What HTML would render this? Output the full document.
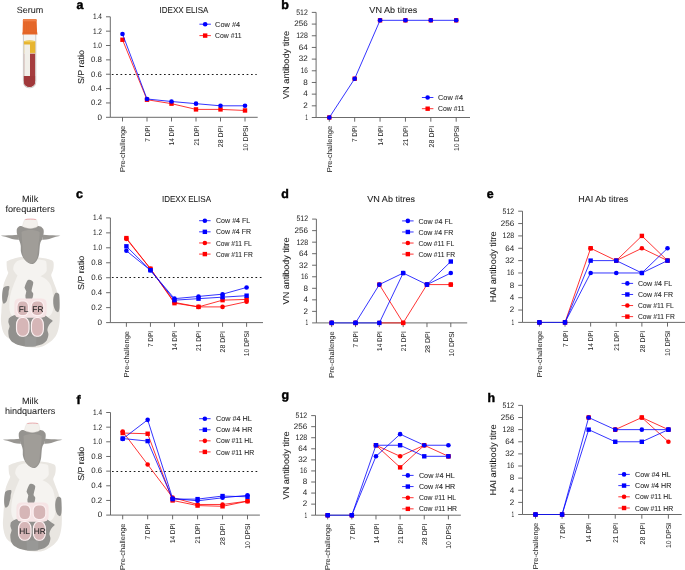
<!DOCTYPE html>
<html><head><meta charset="utf-8"><style>
html,body{margin:0;padding:0;background:#fff;}
svg{display:block;font-family:"Liberation Sans", sans-serif;text-rendering:geometricPrecision;will-change:transform;}
</style></head><body>
<svg width="685" height="570" viewBox="0 0 685 570">
<path d="M110.30 16.80 V117.30 H257.70" fill="none" stroke="#5a5a5a" stroke-width="0.9"/>
<path d="M106.00 117.30 H110.30" stroke="#5a5a5a" stroke-width="0.9"/>
<text x="102.00" y="119.65" font-size="7.9" text-anchor="end" font-weight="normal" fill="#1e1e1e" stroke="#1e1e1e" stroke-width="0.02" textLength="4.49" lengthAdjust="spacingAndGlyphs">0</text>
<path d="M106.00 102.94 H110.30" stroke="#5a5a5a" stroke-width="0.9"/>
<text x="102.00" y="105.29" font-size="7.9" text-anchor="end" font-weight="normal" fill="#1e1e1e" stroke="#1e1e1e" stroke-width="0.02" textLength="10.92" lengthAdjust="spacingAndGlyphs">0.2</text>
<path d="M106.00 88.59 H110.30" stroke="#5a5a5a" stroke-width="0.9"/>
<text x="102.00" y="90.94" font-size="7.9" text-anchor="end" font-weight="normal" fill="#1e1e1e" stroke="#1e1e1e" stroke-width="0.02" textLength="10.92" lengthAdjust="spacingAndGlyphs">0.4</text>
<path d="M106.00 74.23 H110.30" stroke="#5a5a5a" stroke-width="0.9"/>
<text x="102.00" y="76.58" font-size="7.9" text-anchor="end" font-weight="normal" fill="#1e1e1e" stroke="#1e1e1e" stroke-width="0.02" textLength="10.92" lengthAdjust="spacingAndGlyphs">0.6</text>
<path d="M106.00 59.87 H110.30" stroke="#5a5a5a" stroke-width="0.9"/>
<text x="102.00" y="62.22" font-size="7.9" text-anchor="end" font-weight="normal" fill="#1e1e1e" stroke="#1e1e1e" stroke-width="0.02" textLength="10.92" lengthAdjust="spacingAndGlyphs">0.8</text>
<path d="M106.00 45.51 H110.30" stroke="#5a5a5a" stroke-width="0.9"/>
<text x="102.00" y="47.86" font-size="7.9" text-anchor="end" font-weight="normal" fill="#1e1e1e" stroke="#1e1e1e" stroke-width="0.02" textLength="9.08" lengthAdjust="spacingAndGlyphs">1.0</text>
<path d="M106.00 31.16 H110.30" stroke="#5a5a5a" stroke-width="0.9"/>
<text x="102.00" y="33.51" font-size="7.9" text-anchor="end" font-weight="normal" fill="#1e1e1e" stroke="#1e1e1e" stroke-width="0.02" textLength="9.08" lengthAdjust="spacingAndGlyphs">1.2</text>
<path d="M106.00 16.80 H110.30" stroke="#5a5a5a" stroke-width="0.9"/>
<text x="102.00" y="19.15" font-size="7.9" text-anchor="end" font-weight="normal" fill="#1e1e1e" stroke="#1e1e1e" stroke-width="0.02" textLength="9.08" lengthAdjust="spacingAndGlyphs">1.4</text>
<path d="M122.50 117.30 V121.50" stroke="#5a5a5a" stroke-width="0.9"/>
<text transform="translate(125.20,125.70) rotate(-90)" font-size="7.1" text-anchor="end" font-weight="normal" fill="#1e1e1e" stroke="#1e1e1e" stroke-width="0.03" textLength="46.4" lengthAdjust="spacingAndGlyphs">Pre-challenge</text>
<path d="M147.00 117.30 V121.50" stroke="#5a5a5a" stroke-width="0.9"/>
<text transform="translate(149.70,125.70) rotate(-90)" font-size="7.1" text-anchor="end" font-weight="normal" fill="#1e1e1e" stroke="#1e1e1e" stroke-width="0.03" textLength="16.1" lengthAdjust="spacingAndGlyphs">7 DPI</text>
<path d="M171.50 117.30 V121.50" stroke="#5a5a5a" stroke-width="0.9"/>
<text transform="translate(174.20,125.70) rotate(-90)" font-size="7.1" text-anchor="end" font-weight="normal" fill="#1e1e1e" stroke="#1e1e1e" stroke-width="0.03" textLength="19.6" lengthAdjust="spacingAndGlyphs">14 DPI</text>
<path d="M196.00 117.30 V121.50" stroke="#5a5a5a" stroke-width="0.9"/>
<text transform="translate(198.70,125.70) rotate(-90)" font-size="7.1" text-anchor="end" font-weight="normal" fill="#1e1e1e" stroke="#1e1e1e" stroke-width="0.03" textLength="19.9" lengthAdjust="spacingAndGlyphs">21 DPI</text>
<path d="M220.50 117.30 V121.50" stroke="#5a5a5a" stroke-width="0.9"/>
<text transform="translate(223.20,125.70) rotate(-90)" font-size="7.1" text-anchor="end" font-weight="normal" fill="#1e1e1e" stroke="#1e1e1e" stroke-width="0.03" textLength="21.5" lengthAdjust="spacingAndGlyphs">28 DPI</text>
<path d="M245.00 117.30 V121.50" stroke="#5a5a5a" stroke-width="0.9"/>
<text transform="translate(247.70,125.70) rotate(-90)" font-size="7.1" text-anchor="end" font-weight="normal" fill="#1e1e1e" stroke="#1e1e1e" stroke-width="0.03" textLength="25.2" lengthAdjust="spacingAndGlyphs">10 DPSI</text>
<text transform="translate(84.20,67.05) rotate(-90)" font-size="8.6" text-anchor="middle" font-weight="normal" fill="#1e1e1e" stroke="#1e1e1e" stroke-width="0.08" textLength="34.1" lengthAdjust="spacingAndGlyphs">S/P ratio</text>
<path d="M111.80 74.50 H256.70" stroke="#1a1a1a" stroke-width="1" stroke-dasharray="1.7 2.65"/>
<text x="184.00" y="12.70" font-size="8.6" text-anchor="middle" font-weight="normal" fill="#1e1e1e" stroke="#1e1e1e" stroke-width="0.08" textLength="48.9" lengthAdjust="spacingAndGlyphs">IDEXX ELISA</text>
<text x="76.40" y="9.10" font-size="12.4" text-anchor="start" font-weight="bold" fill="#000" stroke="#000" stroke-width="0.45">a</text>
<path d="M122.50 39.77 L147.00 99.71 M147.00 99.71 L171.50 103.66 M171.50 103.66 L196.00 109.40 M196.00 109.40 L220.50 109.40 M220.50 109.40 L245.00 110.48 " fill="none" stroke="#ff0000" stroke-width="0.8" stroke-linejoin="round"/>
<rect x="120.30" y="37.57" width="4.4" height="4.4" fill="#ff0000"/>
<rect x="144.80" y="97.51" width="4.4" height="4.4" fill="#ff0000"/>
<rect x="169.30" y="101.46" width="4.4" height="4.4" fill="#ff0000"/>
<rect x="193.80" y="107.20" width="4.4" height="4.4" fill="#ff0000"/>
<rect x="218.30" y="107.20" width="4.4" height="4.4" fill="#ff0000"/>
<rect x="242.80" y="108.28" width="4.4" height="4.4" fill="#ff0000"/>
<path d="M122.50 34.03 L147.00 98.99 M147.00 98.99 L171.50 101.51 M171.50 101.51 L196.00 103.66 M196.00 103.66 L220.50 105.81 M220.50 105.81 L245.00 105.81 " fill="none" stroke="#0000ff" stroke-width="0.8" stroke-linejoin="round"/>
<circle cx="122.50" cy="34.03" r="2.3" fill="#0000ff"/>
<circle cx="147.00" cy="98.99" r="2.3" fill="#0000ff"/>
<circle cx="171.50" cy="101.51" r="2.3" fill="#0000ff"/>
<circle cx="196.00" cy="103.66" r="2.3" fill="#0000ff"/>
<circle cx="220.50" cy="105.81" r="2.3" fill="#0000ff"/>
<circle cx="245.00" cy="105.81" r="2.3" fill="#0000ff"/>
<path d="M199.40 24.20 H210.90" stroke="#0000ff" stroke-width="0.8"/>
<circle cx="205.15" cy="24.20" r="2.3" fill="#0000ff"/>
<text x="215.10" y="26.80" font-size="7.3" text-anchor="start" font-weight="normal" fill="#1e1e1e" stroke="#1e1e1e" stroke-width="0.06" textLength="25.0" lengthAdjust="spacingAndGlyphs">Cow #4</text>
<path d="M199.40 35.60 H210.90" stroke="#ff0000" stroke-width="0.8"/>
<rect x="202.95" y="33.40" width="4.4" height="4.4" fill="#ff0000"/>
<text x="215.10" y="38.20" font-size="7.3" text-anchor="start" font-weight="normal" fill="#1e1e1e" stroke="#1e1e1e" stroke-width="0.06" textLength="26.6" lengthAdjust="spacingAndGlyphs">Cow #11</text>
<path d="M316.10 12.40 V117.50 H470.00" fill="none" stroke="#5a5a5a" stroke-width="0.9"/>
<path d="M311.80 117.50 H316.10" stroke="#5a5a5a" stroke-width="0.9"/>
<text x="307.80" y="119.85" font-size="7.9" text-anchor="end" font-weight="normal" fill="#1e1e1e" stroke="#1e1e1e" stroke-width="0.02" textLength="2.65" lengthAdjust="spacingAndGlyphs">1</text>
<path d="M311.80 105.82 H316.10" stroke="#5a5a5a" stroke-width="0.9"/>
<text x="307.80" y="108.17" font-size="7.9" text-anchor="end" font-weight="normal" fill="#1e1e1e" stroke="#1e1e1e" stroke-width="0.02" textLength="4.49" lengthAdjust="spacingAndGlyphs">2</text>
<path d="M311.80 94.14 H316.10" stroke="#5a5a5a" stroke-width="0.9"/>
<text x="307.80" y="96.49" font-size="7.9" text-anchor="end" font-weight="normal" fill="#1e1e1e" stroke="#1e1e1e" stroke-width="0.02" textLength="4.49" lengthAdjust="spacingAndGlyphs">4</text>
<path d="M311.80 82.47 H316.10" stroke="#5a5a5a" stroke-width="0.9"/>
<text x="307.80" y="84.82" font-size="7.9" text-anchor="end" font-weight="normal" fill="#1e1e1e" stroke="#1e1e1e" stroke-width="0.02" textLength="4.49" lengthAdjust="spacingAndGlyphs">8</text>
<path d="M311.80 70.79 H316.10" stroke="#5a5a5a" stroke-width="0.9"/>
<text x="307.80" y="73.14" font-size="7.9" text-anchor="end" font-weight="normal" fill="#1e1e1e" stroke="#1e1e1e" stroke-width="0.02" textLength="7.14" lengthAdjust="spacingAndGlyphs">16</text>
<path d="M311.80 59.11 H316.10" stroke="#5a5a5a" stroke-width="0.9"/>
<text x="307.80" y="61.46" font-size="7.9" text-anchor="end" font-weight="normal" fill="#1e1e1e" stroke="#1e1e1e" stroke-width="0.02" textLength="8.98" lengthAdjust="spacingAndGlyphs">32</text>
<path d="M311.80 47.43 H316.10" stroke="#5a5a5a" stroke-width="0.9"/>
<text x="307.80" y="49.78" font-size="7.9" text-anchor="end" font-weight="normal" fill="#1e1e1e" stroke="#1e1e1e" stroke-width="0.02" textLength="8.98" lengthAdjust="spacingAndGlyphs">64</text>
<path d="M311.80 35.76 H316.10" stroke="#5a5a5a" stroke-width="0.9"/>
<text x="307.80" y="38.11" font-size="7.9" text-anchor="end" font-weight="normal" fill="#1e1e1e" stroke="#1e1e1e" stroke-width="0.02" textLength="11.63" lengthAdjust="spacingAndGlyphs">128</text>
<path d="M311.80 24.08 H316.10" stroke="#5a5a5a" stroke-width="0.9"/>
<text x="307.80" y="26.43" font-size="7.9" text-anchor="end" font-weight="normal" fill="#1e1e1e" stroke="#1e1e1e" stroke-width="0.02" textLength="13.47" lengthAdjust="spacingAndGlyphs">256</text>
<path d="M311.80 12.40 H316.10" stroke="#5a5a5a" stroke-width="0.9"/>
<text x="307.80" y="14.75" font-size="7.9" text-anchor="end" font-weight="normal" fill="#1e1e1e" stroke="#1e1e1e" stroke-width="0.02" textLength="11.63" lengthAdjust="spacingAndGlyphs">512</text>
<path d="M329.30 117.50 V121.70" stroke="#5a5a5a" stroke-width="0.9"/>
<text transform="translate(332.00,125.90) rotate(-90)" font-size="7.1" text-anchor="end" font-weight="normal" fill="#1e1e1e" stroke="#1e1e1e" stroke-width="0.03" textLength="46.4" lengthAdjust="spacingAndGlyphs">Pre-challenge</text>
<path d="M354.68 117.50 V121.70" stroke="#5a5a5a" stroke-width="0.9"/>
<text transform="translate(357.38,125.90) rotate(-90)" font-size="7.1" text-anchor="end" font-weight="normal" fill="#1e1e1e" stroke="#1e1e1e" stroke-width="0.03" textLength="16.1" lengthAdjust="spacingAndGlyphs">7 DPI</text>
<path d="M380.06 117.50 V121.70" stroke="#5a5a5a" stroke-width="0.9"/>
<text transform="translate(382.76,125.90) rotate(-90)" font-size="7.1" text-anchor="end" font-weight="normal" fill="#1e1e1e" stroke="#1e1e1e" stroke-width="0.03" textLength="19.6" lengthAdjust="spacingAndGlyphs">14 DPI</text>
<path d="M405.44 117.50 V121.70" stroke="#5a5a5a" stroke-width="0.9"/>
<text transform="translate(408.14,125.90) rotate(-90)" font-size="7.1" text-anchor="end" font-weight="normal" fill="#1e1e1e" stroke="#1e1e1e" stroke-width="0.03" textLength="19.9" lengthAdjust="spacingAndGlyphs">21 DPI</text>
<path d="M430.82 117.50 V121.70" stroke="#5a5a5a" stroke-width="0.9"/>
<text transform="translate(433.52,125.90) rotate(-90)" font-size="7.1" text-anchor="end" font-weight="normal" fill="#1e1e1e" stroke="#1e1e1e" stroke-width="0.03" textLength="21.5" lengthAdjust="spacingAndGlyphs">28 DPI</text>
<path d="M456.20 117.50 V121.70" stroke="#5a5a5a" stroke-width="0.9"/>
<text transform="translate(458.90,125.90) rotate(-90)" font-size="7.1" text-anchor="end" font-weight="normal" fill="#1e1e1e" stroke="#1e1e1e" stroke-width="0.03" textLength="25.2" lengthAdjust="spacingAndGlyphs">10 DPSI</text>
<text transform="translate(289.40,64.95) rotate(-90)" font-size="8.6" text-anchor="middle" font-weight="normal" fill="#1e1e1e" stroke="#1e1e1e" stroke-width="0.08" textLength="68.3" lengthAdjust="spacingAndGlyphs">VN antibody titre</text>
<text x="393.30" y="12.90" font-size="8.6" text-anchor="middle" font-weight="normal" fill="#1e1e1e" stroke="#1e1e1e" stroke-width="0.08" textLength="47.9" lengthAdjust="spacingAndGlyphs">VN Ab titres</text>
<text x="281.30" y="9.30" font-size="12.4" text-anchor="start" font-weight="bold" fill="#000" stroke="#000" stroke-width="0.45">b</text>
<rect x="327.10" y="115.30" width="4.4" height="4.4" fill="#ff0000"/>
<rect x="352.48" y="76.51" width="4.4" height="4.4" fill="#ff0000"/>
<rect x="377.86" y="18.12" width="4.4" height="4.4" fill="#ff0000"/>
<rect x="403.24" y="18.12" width="4.4" height="4.4" fill="#ff0000"/>
<rect x="428.62" y="18.12" width="4.4" height="4.4" fill="#ff0000"/>
<rect x="454.00" y="18.12" width="4.4" height="4.4" fill="#ff0000"/>
<path d="M329.30 117.50 L354.68 78.71 M354.68 78.71 L380.06 20.32 M380.06 20.32 L405.44 20.32 M405.44 20.32 L430.82 20.32 M430.82 20.32 L456.20 20.32 " fill="none" stroke="#0000ff" stroke-width="0.8" stroke-linejoin="round"/>
<circle cx="329.30" cy="117.50" r="2.3" fill="#0000ff"/>
<circle cx="354.68" cy="78.71" r="2.3" fill="#0000ff"/>
<circle cx="380.06" cy="20.32" r="2.3" fill="#0000ff"/>
<circle cx="405.44" cy="20.32" r="2.3" fill="#0000ff"/>
<circle cx="430.82" cy="20.32" r="2.3" fill="#0000ff"/>
<circle cx="456.20" cy="20.32" r="2.3" fill="#0000ff"/>
<path d="M421.90 97.50 H433.40" stroke="#0000ff" stroke-width="0.8"/>
<circle cx="427.65" cy="97.50" r="2.3" fill="#0000ff"/>
<text x="438.00" y="100.10" font-size="7.3" text-anchor="start" font-weight="normal" fill="#1e1e1e" stroke="#1e1e1e" stroke-width="0.06" textLength="25.0" lengthAdjust="spacingAndGlyphs">Cow #4</text>
<path d="M421.90 108.70 H433.40" stroke="#ff0000" stroke-width="0.8"/>
<rect x="425.45" y="106.50" width="4.4" height="4.4" fill="#ff0000"/>
<text x="438.00" y="111.30" font-size="7.3" text-anchor="start" font-weight="normal" fill="#1e1e1e" stroke="#1e1e1e" stroke-width="0.06" textLength="26.6" lengthAdjust="spacingAndGlyphs">Cow #11</text>
<path d="M110.40 217.90 V322.60 H263.00" fill="none" stroke="#5a5a5a" stroke-width="0.9"/>
<path d="M106.10 322.60 H110.40" stroke="#5a5a5a" stroke-width="0.9"/>
<text x="102.10" y="324.95" font-size="7.9" text-anchor="end" font-weight="normal" fill="#1e1e1e" stroke="#1e1e1e" stroke-width="0.02" textLength="4.49" lengthAdjust="spacingAndGlyphs">0</text>
<path d="M106.10 307.64 H110.40" stroke="#5a5a5a" stroke-width="0.9"/>
<text x="102.10" y="309.99" font-size="7.9" text-anchor="end" font-weight="normal" fill="#1e1e1e" stroke="#1e1e1e" stroke-width="0.02" textLength="10.92" lengthAdjust="spacingAndGlyphs">0.2</text>
<path d="M106.10 292.69 H110.40" stroke="#5a5a5a" stroke-width="0.9"/>
<text x="102.10" y="295.04" font-size="7.9" text-anchor="end" font-weight="normal" fill="#1e1e1e" stroke="#1e1e1e" stroke-width="0.02" textLength="10.92" lengthAdjust="spacingAndGlyphs">0.4</text>
<path d="M106.10 277.73 H110.40" stroke="#5a5a5a" stroke-width="0.9"/>
<text x="102.10" y="280.08" font-size="7.9" text-anchor="end" font-weight="normal" fill="#1e1e1e" stroke="#1e1e1e" stroke-width="0.02" textLength="10.92" lengthAdjust="spacingAndGlyphs">0.6</text>
<path d="M106.10 262.77 H110.40" stroke="#5a5a5a" stroke-width="0.9"/>
<text x="102.10" y="265.12" font-size="7.9" text-anchor="end" font-weight="normal" fill="#1e1e1e" stroke="#1e1e1e" stroke-width="0.02" textLength="10.92" lengthAdjust="spacingAndGlyphs">0.8</text>
<path d="M106.10 247.81 H110.40" stroke="#5a5a5a" stroke-width="0.9"/>
<text x="102.10" y="250.16" font-size="7.9" text-anchor="end" font-weight="normal" fill="#1e1e1e" stroke="#1e1e1e" stroke-width="0.02" textLength="9.08" lengthAdjust="spacingAndGlyphs">1.0</text>
<path d="M106.10 232.86 H110.40" stroke="#5a5a5a" stroke-width="0.9"/>
<text x="102.10" y="235.21" font-size="7.9" text-anchor="end" font-weight="normal" fill="#1e1e1e" stroke="#1e1e1e" stroke-width="0.02" textLength="9.08" lengthAdjust="spacingAndGlyphs">1.2</text>
<path d="M106.10 217.90 H110.40" stroke="#5a5a5a" stroke-width="0.9"/>
<text x="102.10" y="220.25" font-size="7.9" text-anchor="end" font-weight="normal" fill="#1e1e1e" stroke="#1e1e1e" stroke-width="0.02" textLength="9.08" lengthAdjust="spacingAndGlyphs">1.4</text>
<path d="M126.40 322.60 V326.80" stroke="#5a5a5a" stroke-width="0.9"/>
<text transform="translate(129.10,331.00) rotate(-90)" font-size="7.1" text-anchor="end" font-weight="normal" fill="#1e1e1e" stroke="#1e1e1e" stroke-width="0.03" textLength="46.4" lengthAdjust="spacingAndGlyphs">Pre-challenge</text>
<path d="M150.44 322.60 V326.80" stroke="#5a5a5a" stroke-width="0.9"/>
<text transform="translate(153.14,331.00) rotate(-90)" font-size="7.1" text-anchor="end" font-weight="normal" fill="#1e1e1e" stroke="#1e1e1e" stroke-width="0.03" textLength="16.1" lengthAdjust="spacingAndGlyphs">7 DPI</text>
<path d="M174.48 322.60 V326.80" stroke="#5a5a5a" stroke-width="0.9"/>
<text transform="translate(177.18,331.00) rotate(-90)" font-size="7.1" text-anchor="end" font-weight="normal" fill="#1e1e1e" stroke="#1e1e1e" stroke-width="0.03" textLength="19.6" lengthAdjust="spacingAndGlyphs">14 DPI</text>
<path d="M198.52 322.60 V326.80" stroke="#5a5a5a" stroke-width="0.9"/>
<text transform="translate(201.22,331.00) rotate(-90)" font-size="7.1" text-anchor="end" font-weight="normal" fill="#1e1e1e" stroke="#1e1e1e" stroke-width="0.03" textLength="19.9" lengthAdjust="spacingAndGlyphs">21 DPI</text>
<path d="M222.56 322.60 V326.80" stroke="#5a5a5a" stroke-width="0.9"/>
<text transform="translate(225.26,331.00) rotate(-90)" font-size="7.1" text-anchor="end" font-weight="normal" fill="#1e1e1e" stroke="#1e1e1e" stroke-width="0.03" textLength="21.5" lengthAdjust="spacingAndGlyphs">28 DPI</text>
<path d="M246.60 322.60 V326.80" stroke="#5a5a5a" stroke-width="0.9"/>
<text transform="translate(249.30,331.00) rotate(-90)" font-size="7.1" text-anchor="end" font-weight="normal" fill="#1e1e1e" stroke="#1e1e1e" stroke-width="0.03" textLength="25.2" lengthAdjust="spacingAndGlyphs">10 DPSI</text>
<text transform="translate(84.20,272.90) rotate(-90)" font-size="8.6" text-anchor="middle" font-weight="normal" fill="#1e1e1e" stroke="#1e1e1e" stroke-width="0.08" textLength="34.1" lengthAdjust="spacingAndGlyphs">S/P ratio</text>
<path d="M111.90 277.50 H262.00" stroke="#1a1a1a" stroke-width="1" stroke-dasharray="1.7 2.65"/>
<text x="186.50" y="201.90" font-size="8.6" text-anchor="middle" font-weight="normal" fill="#1e1e1e" stroke="#1e1e1e" stroke-width="0.08" textLength="49" lengthAdjust="spacingAndGlyphs">IDEXX ELISA</text>
<text x="76.00" y="198.10" font-size="12.4" text-anchor="start" font-weight="bold" fill="#000" stroke="#000" stroke-width="0.45">c</text>
<path d="M126.40 238.84 L150.44 268.75 M150.44 268.75 L174.48 302.41 M174.48 302.41 L198.52 306.90 M198.52 306.90 L222.56 306.90 M222.56 306.90 L246.60 301.66 " fill="none" stroke="#ff0000" stroke-width="0.8" stroke-linejoin="round"/>
<circle cx="126.40" cy="238.84" r="2.3" fill="#ff0000"/>
<circle cx="150.44" cy="268.75" r="2.3" fill="#ff0000"/>
<circle cx="174.48" cy="302.41" r="2.3" fill="#ff0000"/>
<circle cx="198.52" cy="306.90" r="2.3" fill="#ff0000"/>
<circle cx="222.56" cy="306.90" r="2.3" fill="#ff0000"/>
<circle cx="246.60" cy="301.66" r="2.3" fill="#ff0000"/>
<path d="M126.40 238.09 L150.44 268.75 M150.44 268.75 L174.48 303.16 M174.48 303.16 L198.52 306.90 M198.52 306.90 L222.56 300.16 M222.56 300.16 L246.60 299.42 " fill="none" stroke="#ff0000" stroke-width="0.8" stroke-linejoin="round"/>
<rect x="124.20" y="235.89" width="4.4" height="4.4" fill="#ff0000"/>
<rect x="148.24" y="266.55" width="4.4" height="4.4" fill="#ff0000"/>
<rect x="172.28" y="300.96" width="4.4" height="4.4" fill="#ff0000"/>
<rect x="196.32" y="304.70" width="4.4" height="4.4" fill="#ff0000"/>
<rect x="220.36" y="297.96" width="4.4" height="4.4" fill="#ff0000"/>
<rect x="244.40" y="297.22" width="4.4" height="4.4" fill="#ff0000"/>
<path d="M126.40 250.81 L150.44 270.25 M150.44 270.25 L174.48 298.67 M174.48 298.67 L198.52 296.43 M198.52 296.43 L222.56 294.18 M222.56 294.18 L246.60 287.45 " fill="none" stroke="#0000ff" stroke-width="0.8" stroke-linejoin="round"/>
<circle cx="126.40" cy="250.81" r="2.3" fill="#0000ff"/>
<circle cx="150.44" cy="270.25" r="2.3" fill="#0000ff"/>
<circle cx="174.48" cy="298.67" r="2.3" fill="#0000ff"/>
<circle cx="198.52" cy="296.43" r="2.3" fill="#0000ff"/>
<circle cx="222.56" cy="294.18" r="2.3" fill="#0000ff"/>
<circle cx="246.60" cy="287.45" r="2.3" fill="#0000ff"/>
<path d="M126.40 246.32 L150.44 270.25 M150.44 270.25 L174.48 300.16 M174.48 300.16 L198.52 298.67 M198.52 298.67 L222.56 297.17 M222.56 297.17 L246.60 295.68 " fill="none" stroke="#0000ff" stroke-width="0.8" stroke-linejoin="round"/>
<rect x="124.20" y="244.12" width="4.4" height="4.4" fill="#0000ff"/>
<rect x="148.24" y="268.05" width="4.4" height="4.4" fill="#0000ff"/>
<rect x="172.28" y="297.96" width="4.4" height="4.4" fill="#0000ff"/>
<rect x="196.32" y="296.47" width="4.4" height="4.4" fill="#0000ff"/>
<rect x="220.36" y="294.97" width="4.4" height="4.4" fill="#0000ff"/>
<rect x="244.40" y="293.48" width="4.4" height="4.4" fill="#0000ff"/>
<path d="M199.10 220.70 H210.60" stroke="#0000ff" stroke-width="0.8"/>
<circle cx="204.85" cy="220.70" r="2.3" fill="#0000ff"/>
<text x="216.00" y="223.30" font-size="7.3" text-anchor="start" font-weight="normal" fill="#1e1e1e" stroke="#1e1e1e" stroke-width="0.06" textLength="34.3" lengthAdjust="spacingAndGlyphs">Cow #4 FL</text>
<path d="M199.10 231.83 H210.60" stroke="#0000ff" stroke-width="0.8"/>
<rect x="202.65" y="229.63" width="4.4" height="4.4" fill="#0000ff"/>
<text x="216.00" y="234.43" font-size="7.3" text-anchor="start" font-weight="normal" fill="#1e1e1e" stroke="#1e1e1e" stroke-width="0.06" textLength="35.0" lengthAdjust="spacingAndGlyphs">Cow #4 FR</text>
<path d="M199.10 242.96 H210.60" stroke="#ff0000" stroke-width="0.8"/>
<circle cx="204.85" cy="242.96" r="2.3" fill="#ff0000"/>
<text x="216.00" y="245.56" font-size="7.3" text-anchor="start" font-weight="normal" fill="#1e1e1e" stroke="#1e1e1e" stroke-width="0.06" textLength="35.8" lengthAdjust="spacingAndGlyphs">Cow #11 FL</text>
<path d="M199.10 254.09 H210.60" stroke="#ff0000" stroke-width="0.8"/>
<rect x="202.65" y="251.89" width="4.4" height="4.4" fill="#ff0000"/>
<text x="216.00" y="256.69" font-size="7.3" text-anchor="start" font-weight="normal" fill="#1e1e1e" stroke="#1e1e1e" stroke-width="0.06" textLength="36.8" lengthAdjust="spacingAndGlyphs">Cow #11 FR</text>
<path d="M316.40 219.10 V322.90 H467.20" fill="none" stroke="#5a5a5a" stroke-width="0.9"/>
<path d="M312.10 322.90 H316.40" stroke="#5a5a5a" stroke-width="0.9"/>
<text x="308.10" y="325.25" font-size="7.9" text-anchor="end" font-weight="normal" fill="#1e1e1e" stroke="#1e1e1e" stroke-width="0.02" textLength="2.65" lengthAdjust="spacingAndGlyphs">1</text>
<path d="M312.10 311.37 H316.40" stroke="#5a5a5a" stroke-width="0.9"/>
<text x="308.10" y="313.72" font-size="7.9" text-anchor="end" font-weight="normal" fill="#1e1e1e" stroke="#1e1e1e" stroke-width="0.02" textLength="4.49" lengthAdjust="spacingAndGlyphs">2</text>
<path d="M312.10 299.83 H316.40" stroke="#5a5a5a" stroke-width="0.9"/>
<text x="308.10" y="302.18" font-size="7.9" text-anchor="end" font-weight="normal" fill="#1e1e1e" stroke="#1e1e1e" stroke-width="0.02" textLength="4.49" lengthAdjust="spacingAndGlyphs">4</text>
<path d="M312.10 288.30 H316.40" stroke="#5a5a5a" stroke-width="0.9"/>
<text x="308.10" y="290.65" font-size="7.9" text-anchor="end" font-weight="normal" fill="#1e1e1e" stroke="#1e1e1e" stroke-width="0.02" textLength="4.49" lengthAdjust="spacingAndGlyphs">8</text>
<path d="M312.10 276.77 H316.40" stroke="#5a5a5a" stroke-width="0.9"/>
<text x="308.10" y="279.12" font-size="7.9" text-anchor="end" font-weight="normal" fill="#1e1e1e" stroke="#1e1e1e" stroke-width="0.02" textLength="7.14" lengthAdjust="spacingAndGlyphs">16</text>
<path d="M312.10 265.23 H316.40" stroke="#5a5a5a" stroke-width="0.9"/>
<text x="308.10" y="267.58" font-size="7.9" text-anchor="end" font-weight="normal" fill="#1e1e1e" stroke="#1e1e1e" stroke-width="0.02" textLength="8.98" lengthAdjust="spacingAndGlyphs">32</text>
<path d="M312.10 253.70 H316.40" stroke="#5a5a5a" stroke-width="0.9"/>
<text x="308.10" y="256.05" font-size="7.9" text-anchor="end" font-weight="normal" fill="#1e1e1e" stroke="#1e1e1e" stroke-width="0.02" textLength="8.98" lengthAdjust="spacingAndGlyphs">64</text>
<path d="M312.10 242.17 H316.40" stroke="#5a5a5a" stroke-width="0.9"/>
<text x="308.10" y="244.52" font-size="7.9" text-anchor="end" font-weight="normal" fill="#1e1e1e" stroke="#1e1e1e" stroke-width="0.02" textLength="11.63" lengthAdjust="spacingAndGlyphs">128</text>
<path d="M312.10 230.63 H316.40" stroke="#5a5a5a" stroke-width="0.9"/>
<text x="308.10" y="232.98" font-size="7.9" text-anchor="end" font-weight="normal" fill="#1e1e1e" stroke="#1e1e1e" stroke-width="0.02" textLength="13.47" lengthAdjust="spacingAndGlyphs">256</text>
<path d="M312.10 219.10 H316.40" stroke="#5a5a5a" stroke-width="0.9"/>
<text x="308.10" y="221.45" font-size="7.9" text-anchor="end" font-weight="normal" fill="#1e1e1e" stroke="#1e1e1e" stroke-width="0.02" textLength="11.63" lengthAdjust="spacingAndGlyphs">512</text>
<path d="M331.70 322.90 V327.10" stroke="#5a5a5a" stroke-width="0.9"/>
<text transform="translate(334.40,331.30) rotate(-90)" font-size="7.1" text-anchor="end" font-weight="normal" fill="#1e1e1e" stroke="#1e1e1e" stroke-width="0.03" textLength="46.4" lengthAdjust="spacingAndGlyphs">Pre-challenge</text>
<path d="M355.52 322.90 V327.10" stroke="#5a5a5a" stroke-width="0.9"/>
<text transform="translate(358.22,331.30) rotate(-90)" font-size="7.1" text-anchor="end" font-weight="normal" fill="#1e1e1e" stroke="#1e1e1e" stroke-width="0.03" textLength="16.1" lengthAdjust="spacingAndGlyphs">7 DPI</text>
<path d="M379.34 322.90 V327.10" stroke="#5a5a5a" stroke-width="0.9"/>
<text transform="translate(382.04,331.30) rotate(-90)" font-size="7.1" text-anchor="end" font-weight="normal" fill="#1e1e1e" stroke="#1e1e1e" stroke-width="0.03" textLength="19.6" lengthAdjust="spacingAndGlyphs">14 DPI</text>
<path d="M403.16 322.90 V327.10" stroke="#5a5a5a" stroke-width="0.9"/>
<text transform="translate(405.86,331.30) rotate(-90)" font-size="7.1" text-anchor="end" font-weight="normal" fill="#1e1e1e" stroke="#1e1e1e" stroke-width="0.03" textLength="19.9" lengthAdjust="spacingAndGlyphs">21 DPI</text>
<path d="M426.98 322.90 V327.10" stroke="#5a5a5a" stroke-width="0.9"/>
<text transform="translate(429.68,331.30) rotate(-90)" font-size="7.1" text-anchor="end" font-weight="normal" fill="#1e1e1e" stroke="#1e1e1e" stroke-width="0.03" textLength="21.5" lengthAdjust="spacingAndGlyphs">28 DPI</text>
<path d="M450.80 322.90 V327.10" stroke="#5a5a5a" stroke-width="0.9"/>
<text transform="translate(453.50,331.30) rotate(-90)" font-size="7.1" text-anchor="end" font-weight="normal" fill="#1e1e1e" stroke="#1e1e1e" stroke-width="0.03" textLength="25.2" lengthAdjust="spacingAndGlyphs">10 DPSI</text>
<text transform="translate(288.70,271.00) rotate(-90)" font-size="8.6" text-anchor="middle" font-weight="normal" fill="#1e1e1e" stroke="#1e1e1e" stroke-width="0.08" textLength="66.8" lengthAdjust="spacingAndGlyphs">VN antibody titre</text>
<text x="391.20" y="201.60" font-size="8.6" text-anchor="middle" font-weight="normal" fill="#1e1e1e" stroke="#1e1e1e" stroke-width="0.08" textLength="47.9" lengthAdjust="spacingAndGlyphs">VN Ab titres</text>
<text x="281.20" y="198.10" font-size="12.4" text-anchor="start" font-weight="bold" fill="#000" stroke="#000" stroke-width="0.45">d</text>
<path d="M379.34 322.90 L403.16 322.90 " fill="none" stroke="#ff0000" stroke-width="0.8" stroke-linejoin="round"/>
<circle cx="331.70" cy="322.90" r="2.3" fill="#ff0000"/>
<circle cx="355.52" cy="322.90" r="2.3" fill="#ff0000"/>
<circle cx="379.34" cy="322.90" r="2.3" fill="#ff0000"/>
<circle cx="403.16" cy="322.90" r="2.3" fill="#ff0000"/>
<circle cx="426.98" cy="284.59" r="2.3" fill="#ff0000"/>
<circle cx="450.80" cy="284.59" r="2.3" fill="#ff0000"/>
<path d="M379.34 284.59 L403.16 322.90 M403.16 322.90 L426.98 284.59 M426.98 284.59 L450.80 284.59 " fill="none" stroke="#ff0000" stroke-width="0.8" stroke-linejoin="round"/>
<rect x="329.50" y="320.70" width="4.4" height="4.4" fill="#ff0000"/>
<rect x="353.32" y="320.70" width="4.4" height="4.4" fill="#ff0000"/>
<rect x="377.14" y="282.39" width="4.4" height="4.4" fill="#ff0000"/>
<rect x="400.96" y="320.70" width="4.4" height="4.4" fill="#ff0000"/>
<rect x="424.78" y="282.39" width="4.4" height="4.4" fill="#ff0000"/>
<rect x="448.60" y="282.39" width="4.4" height="4.4" fill="#ff0000"/>
<path d="M355.52 322.90 L379.34 284.59 M379.34 284.59 L403.16 273.05 M426.98 284.59 L450.80 273.05 " fill="none" stroke="#0000ff" stroke-width="0.8" stroke-linejoin="round"/>
<circle cx="331.70" cy="322.90" r="2.3" fill="#0000ff"/>
<circle cx="355.52" cy="322.90" r="2.3" fill="#0000ff"/>
<circle cx="379.34" cy="284.59" r="2.3" fill="#0000ff"/>
<circle cx="403.16" cy="273.05" r="2.3" fill="#0000ff"/>
<circle cx="426.98" cy="284.59" r="2.3" fill="#0000ff"/>
<circle cx="450.80" cy="273.05" r="2.3" fill="#0000ff"/>
<path d="M331.70 322.90 L355.52 322.90 M355.52 322.90 L379.34 322.90 M379.34 322.90 L403.16 273.05 M403.16 273.05 L426.98 284.59 M426.98 284.59 L450.80 261.52 " fill="none" stroke="#0000ff" stroke-width="0.8" stroke-linejoin="round"/>
<rect x="329.50" y="320.70" width="4.4" height="4.4" fill="#0000ff"/>
<rect x="353.32" y="320.70" width="4.4" height="4.4" fill="#0000ff"/>
<rect x="377.14" y="320.70" width="4.4" height="4.4" fill="#0000ff"/>
<rect x="400.96" y="270.85" width="4.4" height="4.4" fill="#0000ff"/>
<rect x="424.78" y="282.39" width="4.4" height="4.4" fill="#0000ff"/>
<rect x="448.60" y="259.32" width="4.4" height="4.4" fill="#0000ff"/>
<path d="M402.10 220.90 H413.60" stroke="#0000ff" stroke-width="0.8"/>
<circle cx="407.85" cy="220.90" r="2.3" fill="#0000ff"/>
<text x="418.40" y="223.50" font-size="7.3" text-anchor="start" font-weight="normal" fill="#1e1e1e" stroke="#1e1e1e" stroke-width="0.06" textLength="34.3" lengthAdjust="spacingAndGlyphs">Cow #4 FL</text>
<path d="M402.10 231.97 H413.60" stroke="#0000ff" stroke-width="0.8"/>
<rect x="405.65" y="229.77" width="4.4" height="4.4" fill="#0000ff"/>
<text x="418.40" y="234.57" font-size="7.3" text-anchor="start" font-weight="normal" fill="#1e1e1e" stroke="#1e1e1e" stroke-width="0.06" textLength="35.0" lengthAdjust="spacingAndGlyphs">Cow #4 FR</text>
<path d="M402.10 243.04 H413.60" stroke="#ff0000" stroke-width="0.8"/>
<circle cx="407.85" cy="243.04" r="2.3" fill="#ff0000"/>
<text x="418.40" y="245.64" font-size="7.3" text-anchor="start" font-weight="normal" fill="#1e1e1e" stroke="#1e1e1e" stroke-width="0.06" textLength="35.8" lengthAdjust="spacingAndGlyphs">Cow #11 FL</text>
<path d="M402.10 254.11 H413.60" stroke="#ff0000" stroke-width="0.8"/>
<rect x="405.65" y="251.91" width="4.4" height="4.4" fill="#ff0000"/>
<text x="418.40" y="256.71" font-size="7.3" text-anchor="start" font-weight="normal" fill="#1e1e1e" stroke="#1e1e1e" stroke-width="0.06" textLength="36.8" lengthAdjust="spacingAndGlyphs">Cow #11 FR</text>
<path d="M522.50 211.20 V322.40 H685.00" fill="none" stroke="#5a5a5a" stroke-width="0.9"/>
<path d="M518.20 322.40 H522.50" stroke="#5a5a5a" stroke-width="0.9"/>
<text x="514.20" y="324.75" font-size="7.9" text-anchor="end" font-weight="normal" fill="#1e1e1e" stroke="#1e1e1e" stroke-width="0.02" textLength="2.65" lengthAdjust="spacingAndGlyphs">1</text>
<path d="M518.20 310.04 H522.50" stroke="#5a5a5a" stroke-width="0.9"/>
<text x="514.20" y="312.39" font-size="7.9" text-anchor="end" font-weight="normal" fill="#1e1e1e" stroke="#1e1e1e" stroke-width="0.02" textLength="4.49" lengthAdjust="spacingAndGlyphs">2</text>
<path d="M518.20 297.69 H522.50" stroke="#5a5a5a" stroke-width="0.9"/>
<text x="514.20" y="300.04" font-size="7.9" text-anchor="end" font-weight="normal" fill="#1e1e1e" stroke="#1e1e1e" stroke-width="0.02" textLength="4.49" lengthAdjust="spacingAndGlyphs">4</text>
<path d="M518.20 285.33 H522.50" stroke="#5a5a5a" stroke-width="0.9"/>
<text x="514.20" y="287.68" font-size="7.9" text-anchor="end" font-weight="normal" fill="#1e1e1e" stroke="#1e1e1e" stroke-width="0.02" textLength="4.49" lengthAdjust="spacingAndGlyphs">8</text>
<path d="M518.20 272.98 H522.50" stroke="#5a5a5a" stroke-width="0.9"/>
<text x="514.20" y="275.33" font-size="7.9" text-anchor="end" font-weight="normal" fill="#1e1e1e" stroke="#1e1e1e" stroke-width="0.02" textLength="7.14" lengthAdjust="spacingAndGlyphs">16</text>
<path d="M518.20 260.62 H522.50" stroke="#5a5a5a" stroke-width="0.9"/>
<text x="514.20" y="262.97" font-size="7.9" text-anchor="end" font-weight="normal" fill="#1e1e1e" stroke="#1e1e1e" stroke-width="0.02" textLength="8.98" lengthAdjust="spacingAndGlyphs">32</text>
<path d="M518.20 248.27 H522.50" stroke="#5a5a5a" stroke-width="0.9"/>
<text x="514.20" y="250.62" font-size="7.9" text-anchor="end" font-weight="normal" fill="#1e1e1e" stroke="#1e1e1e" stroke-width="0.02" textLength="8.98" lengthAdjust="spacingAndGlyphs">64</text>
<path d="M518.20 235.91 H522.50" stroke="#5a5a5a" stroke-width="0.9"/>
<text x="514.20" y="238.26" font-size="7.9" text-anchor="end" font-weight="normal" fill="#1e1e1e" stroke="#1e1e1e" stroke-width="0.02" textLength="11.63" lengthAdjust="spacingAndGlyphs">128</text>
<path d="M518.20 223.56 H522.50" stroke="#5a5a5a" stroke-width="0.9"/>
<text x="514.20" y="225.91" font-size="7.9" text-anchor="end" font-weight="normal" fill="#1e1e1e" stroke="#1e1e1e" stroke-width="0.02" textLength="13.47" lengthAdjust="spacingAndGlyphs">256</text>
<path d="M518.20 211.20 H522.50" stroke="#5a5a5a" stroke-width="0.9"/>
<text x="514.20" y="213.55" font-size="7.9" text-anchor="end" font-weight="normal" fill="#1e1e1e" stroke="#1e1e1e" stroke-width="0.02" textLength="11.63" lengthAdjust="spacingAndGlyphs">512</text>
<path d="M539.40 322.40 V326.60" stroke="#5a5a5a" stroke-width="0.9"/>
<text transform="translate(542.10,330.80) rotate(-90)" font-size="7.1" text-anchor="end" font-weight="normal" fill="#1e1e1e" stroke="#1e1e1e" stroke-width="0.03" textLength="46.4" lengthAdjust="spacingAndGlyphs">Pre-challenge</text>
<path d="M565.02 322.40 V326.60" stroke="#5a5a5a" stroke-width="0.9"/>
<text transform="translate(567.72,330.80) rotate(-90)" font-size="7.1" text-anchor="end" font-weight="normal" fill="#1e1e1e" stroke="#1e1e1e" stroke-width="0.03" textLength="16.1" lengthAdjust="spacingAndGlyphs">7 DPI</text>
<path d="M590.64 322.40 V326.60" stroke="#5a5a5a" stroke-width="0.9"/>
<text transform="translate(593.34,330.80) rotate(-90)" font-size="7.1" text-anchor="end" font-weight="normal" fill="#1e1e1e" stroke="#1e1e1e" stroke-width="0.03" textLength="19.6" lengthAdjust="spacingAndGlyphs">14 DPI</text>
<path d="M616.26 322.40 V326.60" stroke="#5a5a5a" stroke-width="0.9"/>
<text transform="translate(618.96,330.80) rotate(-90)" font-size="7.1" text-anchor="end" font-weight="normal" fill="#1e1e1e" stroke="#1e1e1e" stroke-width="0.03" textLength="19.9" lengthAdjust="spacingAndGlyphs">21 DPI</text>
<path d="M641.88 322.40 V326.60" stroke="#5a5a5a" stroke-width="0.9"/>
<text transform="translate(644.58,330.80) rotate(-90)" font-size="7.1" text-anchor="end" font-weight="normal" fill="#1e1e1e" stroke="#1e1e1e" stroke-width="0.03" textLength="21.5" lengthAdjust="spacingAndGlyphs">28 DPI</text>
<path d="M667.50 322.40 V326.60" stroke="#5a5a5a" stroke-width="0.9"/>
<text transform="translate(670.20,330.80) rotate(-90)" font-size="7.1" text-anchor="end" font-weight="normal" fill="#1e1e1e" stroke="#1e1e1e" stroke-width="0.03" textLength="25.2" lengthAdjust="spacingAndGlyphs">10 DPSI</text>
<text transform="translate(495.50,266.80) rotate(-90)" font-size="8.6" text-anchor="middle" font-weight="normal" fill="#1e1e1e" stroke="#1e1e1e" stroke-width="0.08" textLength="71" lengthAdjust="spacingAndGlyphs">HAI antibody titre</text>
<text x="603.30" y="201.60" font-size="8.6" text-anchor="middle" font-weight="normal" fill="#1e1e1e" stroke="#1e1e1e" stroke-width="0.08" textLength="49.9" lengthAdjust="spacingAndGlyphs">HAI Ab titres</text>
<text x="486.80" y="198.10" font-size="12.4" text-anchor="start" font-weight="bold" fill="#000" stroke="#000" stroke-width="0.45">e</text>
<path d="M616.26 260.62 L641.88 248.27 M641.88 248.27 L667.50 260.62 " fill="none" stroke="#ff0000" stroke-width="0.8" stroke-linejoin="round"/>
<circle cx="539.40" cy="322.40" r="2.3" fill="#ff0000"/>
<circle cx="565.02" cy="322.40" r="2.3" fill="#ff0000"/>
<circle cx="590.64" cy="248.27" r="2.3" fill="#ff0000"/>
<circle cx="616.26" cy="260.62" r="2.3" fill="#ff0000"/>
<circle cx="641.88" cy="248.27" r="2.3" fill="#ff0000"/>
<circle cx="667.50" cy="260.62" r="2.3" fill="#ff0000"/>
<path d="M565.02 322.40 L590.64 248.27 M590.64 248.27 L616.26 260.62 M616.26 260.62 L641.88 235.91 M641.88 235.91 L667.50 260.62 " fill="none" stroke="#ff0000" stroke-width="0.8" stroke-linejoin="round"/>
<rect x="537.20" y="320.20" width="4.4" height="4.4" fill="#ff0000"/>
<rect x="562.82" y="320.20" width="4.4" height="4.4" fill="#ff0000"/>
<rect x="588.44" y="246.07" width="4.4" height="4.4" fill="#ff0000"/>
<rect x="614.06" y="258.42" width="4.4" height="4.4" fill="#ff0000"/>
<rect x="639.68" y="233.71" width="4.4" height="4.4" fill="#ff0000"/>
<rect x="665.30" y="258.42" width="4.4" height="4.4" fill="#ff0000"/>
<path d="M565.02 322.40 L590.64 272.98 M590.64 272.98 L616.26 272.98 M616.26 272.98 L641.88 272.98 M641.88 272.98 L667.50 248.27 " fill="none" stroke="#0000ff" stroke-width="0.8" stroke-linejoin="round"/>
<circle cx="539.40" cy="322.40" r="2.3" fill="#0000ff"/>
<circle cx="565.02" cy="322.40" r="2.3" fill="#0000ff"/>
<circle cx="590.64" cy="272.98" r="2.3" fill="#0000ff"/>
<circle cx="616.26" cy="272.98" r="2.3" fill="#0000ff"/>
<circle cx="641.88" cy="272.98" r="2.3" fill="#0000ff"/>
<circle cx="667.50" cy="248.27" r="2.3" fill="#0000ff"/>
<path d="M539.40 322.40 L565.02 322.40 M565.02 322.40 L590.64 260.62 M590.64 260.62 L616.26 260.62 M616.26 260.62 L641.88 272.98 M641.88 272.98 L667.50 260.62 " fill="none" stroke="#0000ff" stroke-width="0.8" stroke-linejoin="round"/>
<rect x="537.20" y="320.20" width="4.4" height="4.4" fill="#0000ff"/>
<rect x="562.82" y="320.20" width="4.4" height="4.4" fill="#0000ff"/>
<rect x="588.44" y="258.42" width="4.4" height="4.4" fill="#0000ff"/>
<rect x="614.06" y="258.42" width="4.4" height="4.4" fill="#0000ff"/>
<rect x="639.68" y="270.78" width="4.4" height="4.4" fill="#0000ff"/>
<rect x="665.30" y="258.42" width="4.4" height="4.4" fill="#0000ff"/>
<path d="M621.60 283.40 H633.10" stroke="#0000ff" stroke-width="0.8"/>
<circle cx="627.35" cy="283.40" r="2.3" fill="#0000ff"/>
<text x="638.00" y="286.00" font-size="7.3" text-anchor="start" font-weight="normal" fill="#1e1e1e" stroke="#1e1e1e" stroke-width="0.06" textLength="34.3" lengthAdjust="spacingAndGlyphs">Cow #4 FL</text>
<path d="M621.60 294.47 H633.10" stroke="#0000ff" stroke-width="0.8"/>
<rect x="625.15" y="292.27" width="4.4" height="4.4" fill="#0000ff"/>
<text x="638.00" y="297.07" font-size="7.3" text-anchor="start" font-weight="normal" fill="#1e1e1e" stroke="#1e1e1e" stroke-width="0.06" textLength="35.0" lengthAdjust="spacingAndGlyphs">Cow #4 FR</text>
<path d="M621.60 305.54 H633.10" stroke="#ff0000" stroke-width="0.8"/>
<circle cx="627.35" cy="305.54" r="2.3" fill="#ff0000"/>
<text x="638.00" y="308.14" font-size="7.3" text-anchor="start" font-weight="normal" fill="#1e1e1e" stroke="#1e1e1e" stroke-width="0.06" textLength="35.8" lengthAdjust="spacingAndGlyphs">Cow #11 FL</text>
<path d="M621.60 316.61 H633.10" stroke="#ff0000" stroke-width="0.8"/>
<rect x="625.15" y="314.41" width="4.4" height="4.4" fill="#ff0000"/>
<text x="638.00" y="319.21" font-size="7.3" text-anchor="start" font-weight="normal" fill="#1e1e1e" stroke="#1e1e1e" stroke-width="0.06" textLength="36.8" lengthAdjust="spacingAndGlyphs">Cow #11 FR</text>
<path d="M110.50 412.50 V515.10 H259.90" fill="none" stroke="#5a5a5a" stroke-width="0.9"/>
<path d="M106.20 515.10 H110.50" stroke="#5a5a5a" stroke-width="0.9"/>
<text x="102.20" y="517.45" font-size="7.9" text-anchor="end" font-weight="normal" fill="#1e1e1e" stroke="#1e1e1e" stroke-width="0.02" textLength="4.49" lengthAdjust="spacingAndGlyphs">0</text>
<path d="M106.20 500.44 H110.50" stroke="#5a5a5a" stroke-width="0.9"/>
<text x="102.20" y="502.79" font-size="7.9" text-anchor="end" font-weight="normal" fill="#1e1e1e" stroke="#1e1e1e" stroke-width="0.02" textLength="10.92" lengthAdjust="spacingAndGlyphs">0.2</text>
<path d="M106.20 485.79 H110.50" stroke="#5a5a5a" stroke-width="0.9"/>
<text x="102.20" y="488.14" font-size="7.9" text-anchor="end" font-weight="normal" fill="#1e1e1e" stroke="#1e1e1e" stroke-width="0.02" textLength="10.92" lengthAdjust="spacingAndGlyphs">0.4</text>
<path d="M106.20 471.13 H110.50" stroke="#5a5a5a" stroke-width="0.9"/>
<text x="102.20" y="473.48" font-size="7.9" text-anchor="end" font-weight="normal" fill="#1e1e1e" stroke="#1e1e1e" stroke-width="0.02" textLength="10.92" lengthAdjust="spacingAndGlyphs">0.6</text>
<path d="M106.20 456.47 H110.50" stroke="#5a5a5a" stroke-width="0.9"/>
<text x="102.20" y="458.82" font-size="7.9" text-anchor="end" font-weight="normal" fill="#1e1e1e" stroke="#1e1e1e" stroke-width="0.02" textLength="10.92" lengthAdjust="spacingAndGlyphs">0.8</text>
<path d="M106.20 441.81 H110.50" stroke="#5a5a5a" stroke-width="0.9"/>
<text x="102.20" y="444.16" font-size="7.9" text-anchor="end" font-weight="normal" fill="#1e1e1e" stroke="#1e1e1e" stroke-width="0.02" textLength="9.08" lengthAdjust="spacingAndGlyphs">1.0</text>
<path d="M106.20 427.16 H110.50" stroke="#5a5a5a" stroke-width="0.9"/>
<text x="102.20" y="429.51" font-size="7.9" text-anchor="end" font-weight="normal" fill="#1e1e1e" stroke="#1e1e1e" stroke-width="0.02" textLength="9.08" lengthAdjust="spacingAndGlyphs">1.2</text>
<path d="M106.20 412.50 H110.50" stroke="#5a5a5a" stroke-width="0.9"/>
<text x="102.20" y="414.85" font-size="7.9" text-anchor="end" font-weight="normal" fill="#1e1e1e" stroke="#1e1e1e" stroke-width="0.02" textLength="9.08" lengthAdjust="spacingAndGlyphs">1.4</text>
<path d="M122.70 515.10 V519.30" stroke="#5a5a5a" stroke-width="0.9"/>
<text transform="translate(125.40,523.50) rotate(-90)" font-size="7.1" text-anchor="end" font-weight="normal" fill="#1e1e1e" stroke="#1e1e1e" stroke-width="0.03" textLength="46.4" lengthAdjust="spacingAndGlyphs">Pre-challenge</text>
<path d="M147.66 515.10 V519.30" stroke="#5a5a5a" stroke-width="0.9"/>
<text transform="translate(150.36,523.50) rotate(-90)" font-size="7.1" text-anchor="end" font-weight="normal" fill="#1e1e1e" stroke="#1e1e1e" stroke-width="0.03" textLength="16.1" lengthAdjust="spacingAndGlyphs">7 DPI</text>
<path d="M172.62 515.10 V519.30" stroke="#5a5a5a" stroke-width="0.9"/>
<text transform="translate(175.32,523.50) rotate(-90)" font-size="7.1" text-anchor="end" font-weight="normal" fill="#1e1e1e" stroke="#1e1e1e" stroke-width="0.03" textLength="19.6" lengthAdjust="spacingAndGlyphs">14 DPI</text>
<path d="M197.58 515.10 V519.30" stroke="#5a5a5a" stroke-width="0.9"/>
<text transform="translate(200.28,523.50) rotate(-90)" font-size="7.1" text-anchor="end" font-weight="normal" fill="#1e1e1e" stroke="#1e1e1e" stroke-width="0.03" textLength="19.9" lengthAdjust="spacingAndGlyphs">21 DPI</text>
<path d="M222.54 515.10 V519.30" stroke="#5a5a5a" stroke-width="0.9"/>
<text transform="translate(225.24,523.50) rotate(-90)" font-size="7.1" text-anchor="end" font-weight="normal" fill="#1e1e1e" stroke="#1e1e1e" stroke-width="0.03" textLength="21.5" lengthAdjust="spacingAndGlyphs">28 DPI</text>
<path d="M247.50 515.10 V519.30" stroke="#5a5a5a" stroke-width="0.9"/>
<text transform="translate(250.20,523.50) rotate(-90)" font-size="7.1" text-anchor="end" font-weight="normal" fill="#1e1e1e" stroke="#1e1e1e" stroke-width="0.03" textLength="25.2" lengthAdjust="spacingAndGlyphs">10 DPSI</text>
<text transform="translate(84.20,463.80) rotate(-90)" font-size="8.6" text-anchor="middle" font-weight="normal" fill="#1e1e1e" stroke="#1e1e1e" stroke-width="0.08" textLength="34.1" lengthAdjust="spacingAndGlyphs">S/P ratio</text>
<path d="M112.00 471.50 H258.90" stroke="#1a1a1a" stroke-width="1" stroke-dasharray="1.7 2.65"/>
<text x="76.40" y="403.80" font-size="12.4" text-anchor="start" font-weight="bold" fill="#000" stroke="#000" stroke-width="0.45">f</text>
<path d="M122.70 431.55 L147.66 464.53 M147.66 464.53 L172.62 497.51 M172.62 497.51 L197.58 504.47 M197.58 504.47 L222.54 504.47 M222.54 504.47 L247.50 501.18 " fill="none" stroke="#ff0000" stroke-width="0.8" stroke-linejoin="round"/>
<circle cx="122.70" cy="431.55" r="2.3" fill="#ff0000"/>
<circle cx="147.66" cy="464.53" r="2.3" fill="#ff0000"/>
<circle cx="172.62" cy="497.51" r="2.3" fill="#ff0000"/>
<circle cx="197.58" cy="504.47" r="2.3" fill="#ff0000"/>
<circle cx="222.54" cy="504.47" r="2.3" fill="#ff0000"/>
<circle cx="247.50" cy="501.18" r="2.3" fill="#ff0000"/>
<path d="M122.70 433.02 L147.66 433.75 M147.66 433.75 L172.62 500.44 M172.62 500.44 L197.58 505.57 M197.58 505.57 L222.54 506.31 M222.54 506.31 L247.50 501.18 " fill="none" stroke="#ff0000" stroke-width="0.8" stroke-linejoin="round"/>
<rect x="120.50" y="430.82" width="4.4" height="4.4" fill="#ff0000"/>
<rect x="145.46" y="431.55" width="4.4" height="4.4" fill="#ff0000"/>
<rect x="170.42" y="498.24" width="4.4" height="4.4" fill="#ff0000"/>
<rect x="195.38" y="503.37" width="4.4" height="4.4" fill="#ff0000"/>
<rect x="220.34" y="504.11" width="4.4" height="4.4" fill="#ff0000"/>
<rect x="245.30" y="498.98" width="4.4" height="4.4" fill="#ff0000"/>
<path d="M122.70 438.88 L147.66 419.83 M147.66 419.83 L172.62 498.46 M172.62 498.46 L197.58 500.81 M197.58 500.81 L222.54 497.80 M222.54 497.80 L247.50 495.31 " fill="none" stroke="#0000ff" stroke-width="0.8" stroke-linejoin="round"/>
<circle cx="122.70" cy="438.88" r="2.3" fill="#0000ff"/>
<circle cx="147.66" cy="419.83" r="2.3" fill="#0000ff"/>
<circle cx="172.62" cy="498.46" r="2.3" fill="#0000ff"/>
<circle cx="197.58" cy="500.81" r="2.3" fill="#0000ff"/>
<circle cx="222.54" cy="497.80" r="2.3" fill="#0000ff"/>
<circle cx="247.50" cy="495.31" r="2.3" fill="#0000ff"/>
<path d="M122.70 438.52 L147.66 441.08 M147.66 441.08 L172.62 499.12 M172.62 499.12 L197.58 499.12 M197.58 499.12 L222.54 496.05 M222.54 496.05 L247.50 496.78 " fill="none" stroke="#0000ff" stroke-width="0.8" stroke-linejoin="round"/>
<rect x="120.50" y="436.32" width="4.4" height="4.4" fill="#0000ff"/>
<rect x="145.46" y="438.88" width="4.4" height="4.4" fill="#0000ff"/>
<rect x="170.42" y="496.92" width="4.4" height="4.4" fill="#0000ff"/>
<rect x="195.38" y="496.92" width="4.4" height="4.4" fill="#0000ff"/>
<rect x="220.34" y="493.85" width="4.4" height="4.4" fill="#0000ff"/>
<rect x="245.30" y="494.58" width="4.4" height="4.4" fill="#0000ff"/>
<path d="M199.10 418.70 H210.60" stroke="#0000ff" stroke-width="0.8"/>
<circle cx="204.85" cy="418.70" r="2.3" fill="#0000ff"/>
<text x="216.00" y="421.30" font-size="7.3" text-anchor="start" font-weight="normal" fill="#1e1e1e" stroke="#1e1e1e" stroke-width="0.06" textLength="35.8" lengthAdjust="spacingAndGlyphs">Cow #4 HL</text>
<path d="M199.10 429.77 H210.60" stroke="#0000ff" stroke-width="0.8"/>
<rect x="202.65" y="427.57" width="4.4" height="4.4" fill="#0000ff"/>
<text x="216.00" y="432.37" font-size="7.3" text-anchor="start" font-weight="normal" fill="#1e1e1e" stroke="#1e1e1e" stroke-width="0.06" textLength="36.3" lengthAdjust="spacingAndGlyphs">Cow #4 HR</text>
<path d="M199.10 440.84 H210.60" stroke="#ff0000" stroke-width="0.8"/>
<circle cx="204.85" cy="440.84" r="2.3" fill="#ff0000"/>
<text x="216.00" y="443.44" font-size="7.3" text-anchor="start" font-weight="normal" fill="#1e1e1e" stroke="#1e1e1e" stroke-width="0.06" textLength="37.1" lengthAdjust="spacingAndGlyphs">Cow #11 HL</text>
<path d="M199.10 451.91 H210.60" stroke="#ff0000" stroke-width="0.8"/>
<rect x="202.65" y="449.71" width="4.4" height="4.4" fill="#ff0000"/>
<text x="216.00" y="454.51" font-size="7.3" text-anchor="start" font-weight="normal" fill="#1e1e1e" stroke="#1e1e1e" stroke-width="0.06" textLength="38.1" lengthAdjust="spacingAndGlyphs">Cow #11 HR</text>
<path d="M315.50 415.60 V515.20 H460.80" fill="none" stroke="#5a5a5a" stroke-width="0.9"/>
<path d="M311.20 515.20 H315.50" stroke="#5a5a5a" stroke-width="0.9"/>
<text x="307.20" y="517.55" font-size="7.9" text-anchor="end" font-weight="normal" fill="#1e1e1e" stroke="#1e1e1e" stroke-width="0.02" textLength="2.65" lengthAdjust="spacingAndGlyphs">1</text>
<path d="M311.20 504.13 H315.50" stroke="#5a5a5a" stroke-width="0.9"/>
<text x="307.20" y="506.48" font-size="7.9" text-anchor="end" font-weight="normal" fill="#1e1e1e" stroke="#1e1e1e" stroke-width="0.02" textLength="4.49" lengthAdjust="spacingAndGlyphs">2</text>
<path d="M311.20 493.07 H315.50" stroke="#5a5a5a" stroke-width="0.9"/>
<text x="307.20" y="495.42" font-size="7.9" text-anchor="end" font-weight="normal" fill="#1e1e1e" stroke="#1e1e1e" stroke-width="0.02" textLength="4.49" lengthAdjust="spacingAndGlyphs">4</text>
<path d="M311.20 482.00 H315.50" stroke="#5a5a5a" stroke-width="0.9"/>
<text x="307.20" y="484.35" font-size="7.9" text-anchor="end" font-weight="normal" fill="#1e1e1e" stroke="#1e1e1e" stroke-width="0.02" textLength="4.49" lengthAdjust="spacingAndGlyphs">8</text>
<path d="M311.20 470.93 H315.50" stroke="#5a5a5a" stroke-width="0.9"/>
<text x="307.20" y="473.28" font-size="7.9" text-anchor="end" font-weight="normal" fill="#1e1e1e" stroke="#1e1e1e" stroke-width="0.02" textLength="7.14" lengthAdjust="spacingAndGlyphs">16</text>
<path d="M311.20 459.87 H315.50" stroke="#5a5a5a" stroke-width="0.9"/>
<text x="307.20" y="462.22" font-size="7.9" text-anchor="end" font-weight="normal" fill="#1e1e1e" stroke="#1e1e1e" stroke-width="0.02" textLength="8.98" lengthAdjust="spacingAndGlyphs">32</text>
<path d="M311.20 448.80 H315.50" stroke="#5a5a5a" stroke-width="0.9"/>
<text x="307.20" y="451.15" font-size="7.9" text-anchor="end" font-weight="normal" fill="#1e1e1e" stroke="#1e1e1e" stroke-width="0.02" textLength="8.98" lengthAdjust="spacingAndGlyphs">64</text>
<path d="M311.20 437.73 H315.50" stroke="#5a5a5a" stroke-width="0.9"/>
<text x="307.20" y="440.08" font-size="7.9" text-anchor="end" font-weight="normal" fill="#1e1e1e" stroke="#1e1e1e" stroke-width="0.02" textLength="11.63" lengthAdjust="spacingAndGlyphs">128</text>
<path d="M311.20 426.67 H315.50" stroke="#5a5a5a" stroke-width="0.9"/>
<text x="307.20" y="429.02" font-size="7.9" text-anchor="end" font-weight="normal" fill="#1e1e1e" stroke="#1e1e1e" stroke-width="0.02" textLength="13.47" lengthAdjust="spacingAndGlyphs">256</text>
<path d="M311.20 415.60 H315.50" stroke="#5a5a5a" stroke-width="0.9"/>
<text x="307.20" y="417.95" font-size="7.9" text-anchor="end" font-weight="normal" fill="#1e1e1e" stroke="#1e1e1e" stroke-width="0.02" textLength="11.63" lengthAdjust="spacingAndGlyphs">512</text>
<path d="M327.70 515.20 V519.40" stroke="#5a5a5a" stroke-width="0.9"/>
<text transform="translate(330.40,523.60) rotate(-90)" font-size="7.1" text-anchor="end" font-weight="normal" fill="#1e1e1e" stroke="#1e1e1e" stroke-width="0.03" textLength="46.4" lengthAdjust="spacingAndGlyphs">Pre-challenge</text>
<path d="M351.84 515.20 V519.40" stroke="#5a5a5a" stroke-width="0.9"/>
<text transform="translate(354.54,523.60) rotate(-90)" font-size="7.1" text-anchor="end" font-weight="normal" fill="#1e1e1e" stroke="#1e1e1e" stroke-width="0.03" textLength="16.1" lengthAdjust="spacingAndGlyphs">7 DPI</text>
<path d="M375.98 515.20 V519.40" stroke="#5a5a5a" stroke-width="0.9"/>
<text transform="translate(378.68,523.60) rotate(-90)" font-size="7.1" text-anchor="end" font-weight="normal" fill="#1e1e1e" stroke="#1e1e1e" stroke-width="0.03" textLength="19.6" lengthAdjust="spacingAndGlyphs">14 DPI</text>
<path d="M400.12 515.20 V519.40" stroke="#5a5a5a" stroke-width="0.9"/>
<text transform="translate(402.82,523.60) rotate(-90)" font-size="7.1" text-anchor="end" font-weight="normal" fill="#1e1e1e" stroke="#1e1e1e" stroke-width="0.03" textLength="19.9" lengthAdjust="spacingAndGlyphs">21 DPI</text>
<path d="M424.26 515.20 V519.40" stroke="#5a5a5a" stroke-width="0.9"/>
<text transform="translate(426.96,523.60) rotate(-90)" font-size="7.1" text-anchor="end" font-weight="normal" fill="#1e1e1e" stroke="#1e1e1e" stroke-width="0.03" textLength="21.5" lengthAdjust="spacingAndGlyphs">28 DPI</text>
<path d="M448.40 515.20 V519.40" stroke="#5a5a5a" stroke-width="0.9"/>
<text transform="translate(451.10,523.60) rotate(-90)" font-size="7.1" text-anchor="end" font-weight="normal" fill="#1e1e1e" stroke="#1e1e1e" stroke-width="0.03" textLength="25.2" lengthAdjust="spacingAndGlyphs">10 DPSI</text>
<text transform="translate(289.40,465.40) rotate(-90)" font-size="8.6" text-anchor="middle" font-weight="normal" fill="#1e1e1e" stroke="#1e1e1e" stroke-width="0.08" textLength="68.3" lengthAdjust="spacingAndGlyphs">VN antibody titre</text>
<text x="281.50" y="399.10" font-size="12.4" text-anchor="start" font-weight="bold" fill="#000" stroke="#000" stroke-width="0.45">g</text>
<path d="M375.98 445.24 L400.12 456.30 M400.12 456.30 L424.26 445.24 " fill="none" stroke="#ff0000" stroke-width="0.8" stroke-linejoin="round"/>
<circle cx="327.70" cy="515.20" r="2.3" fill="#ff0000"/>
<circle cx="351.84" cy="515.20" r="2.3" fill="#ff0000"/>
<circle cx="375.98" cy="445.24" r="2.3" fill="#ff0000"/>
<circle cx="400.12" cy="456.30" r="2.3" fill="#ff0000"/>
<circle cx="424.26" cy="445.24" r="2.3" fill="#ff0000"/>
<circle cx="448.40" cy="456.30" r="2.3" fill="#ff0000"/>
<path d="M375.98 445.24 L400.12 467.37 M400.12 467.37 L424.26 445.24 M424.26 445.24 L448.40 456.30 " fill="none" stroke="#ff0000" stroke-width="0.8" stroke-linejoin="round"/>
<rect x="325.50" y="513.00" width="4.4" height="4.4" fill="#ff0000"/>
<rect x="349.64" y="513.00" width="4.4" height="4.4" fill="#ff0000"/>
<rect x="373.78" y="443.04" width="4.4" height="4.4" fill="#ff0000"/>
<rect x="397.92" y="465.17" width="4.4" height="4.4" fill="#ff0000"/>
<rect x="422.06" y="443.04" width="4.4" height="4.4" fill="#ff0000"/>
<rect x="446.20" y="454.10" width="4.4" height="4.4" fill="#ff0000"/>
<path d="M351.84 515.20 L375.98 456.30 M375.98 456.30 L400.12 434.17 M400.12 434.17 L424.26 445.24 M424.26 445.24 L448.40 445.24 " fill="none" stroke="#0000ff" stroke-width="0.8" stroke-linejoin="round"/>
<circle cx="327.70" cy="515.20" r="2.3" fill="#0000ff"/>
<circle cx="351.84" cy="515.20" r="2.3" fill="#0000ff"/>
<circle cx="375.98" cy="456.30" r="2.3" fill="#0000ff"/>
<circle cx="400.12" cy="434.17" r="2.3" fill="#0000ff"/>
<circle cx="424.26" cy="445.24" r="2.3" fill="#0000ff"/>
<circle cx="448.40" cy="445.24" r="2.3" fill="#0000ff"/>
<path d="M327.70 515.20 L351.84 515.20 M351.84 515.20 L375.98 445.24 M375.98 445.24 L400.12 445.24 M400.12 445.24 L424.26 456.30 M424.26 456.30 L448.40 456.30 " fill="none" stroke="#0000ff" stroke-width="0.8" stroke-linejoin="round"/>
<rect x="325.50" y="513.00" width="4.4" height="4.4" fill="#0000ff"/>
<rect x="349.64" y="513.00" width="4.4" height="4.4" fill="#0000ff"/>
<rect x="373.78" y="443.04" width="4.4" height="4.4" fill="#0000ff"/>
<rect x="397.92" y="443.04" width="4.4" height="4.4" fill="#0000ff"/>
<rect x="422.06" y="454.10" width="4.4" height="4.4" fill="#0000ff"/>
<rect x="446.20" y="454.10" width="4.4" height="4.4" fill="#0000ff"/>
<path d="M402.10 475.40 H413.60" stroke="#0000ff" stroke-width="0.8"/>
<circle cx="407.85" cy="475.40" r="2.3" fill="#0000ff"/>
<text x="418.90" y="478.00" font-size="7.3" text-anchor="start" font-weight="normal" fill="#1e1e1e" stroke="#1e1e1e" stroke-width="0.06" textLength="35.8" lengthAdjust="spacingAndGlyphs">Cow #4 HL</text>
<path d="M402.10 486.55 H413.60" stroke="#0000ff" stroke-width="0.8"/>
<rect x="405.65" y="484.35" width="4.4" height="4.4" fill="#0000ff"/>
<text x="418.90" y="489.15" font-size="7.3" text-anchor="start" font-weight="normal" fill="#1e1e1e" stroke="#1e1e1e" stroke-width="0.06" textLength="36.3" lengthAdjust="spacingAndGlyphs">Cow #4 HR</text>
<path d="M402.10 497.70 H413.60" stroke="#ff0000" stroke-width="0.8"/>
<circle cx="407.85" cy="497.70" r="2.3" fill="#ff0000"/>
<text x="418.90" y="500.30" font-size="7.3" text-anchor="start" font-weight="normal" fill="#1e1e1e" stroke="#1e1e1e" stroke-width="0.06" textLength="37.1" lengthAdjust="spacingAndGlyphs">Cow #11 HL</text>
<path d="M402.10 508.85 H413.60" stroke="#ff0000" stroke-width="0.8"/>
<rect x="405.65" y="506.65" width="4.4" height="4.4" fill="#ff0000"/>
<text x="418.90" y="511.45" font-size="7.3" text-anchor="start" font-weight="normal" fill="#1e1e1e" stroke="#1e1e1e" stroke-width="0.06" textLength="38.1" lengthAdjust="spacingAndGlyphs">Cow #11 HR</text>
<path d="M522.50 405.40 V514.50 H681.70" fill="none" stroke="#5a5a5a" stroke-width="0.9"/>
<path d="M518.20 514.50 H522.50" stroke="#5a5a5a" stroke-width="0.9"/>
<text x="514.20" y="516.85" font-size="7.9" text-anchor="end" font-weight="normal" fill="#1e1e1e" stroke="#1e1e1e" stroke-width="0.02" textLength="2.65" lengthAdjust="spacingAndGlyphs">1</text>
<path d="M518.20 502.38 H522.50" stroke="#5a5a5a" stroke-width="0.9"/>
<text x="514.20" y="504.73" font-size="7.9" text-anchor="end" font-weight="normal" fill="#1e1e1e" stroke="#1e1e1e" stroke-width="0.02" textLength="4.49" lengthAdjust="spacingAndGlyphs">2</text>
<path d="M518.20 490.26 H522.50" stroke="#5a5a5a" stroke-width="0.9"/>
<text x="514.20" y="492.61" font-size="7.9" text-anchor="end" font-weight="normal" fill="#1e1e1e" stroke="#1e1e1e" stroke-width="0.02" textLength="4.49" lengthAdjust="spacingAndGlyphs">4</text>
<path d="M518.20 478.13 H522.50" stroke="#5a5a5a" stroke-width="0.9"/>
<text x="514.20" y="480.48" font-size="7.9" text-anchor="end" font-weight="normal" fill="#1e1e1e" stroke="#1e1e1e" stroke-width="0.02" textLength="4.49" lengthAdjust="spacingAndGlyphs">8</text>
<path d="M518.20 466.01 H522.50" stroke="#5a5a5a" stroke-width="0.9"/>
<text x="514.20" y="468.36" font-size="7.9" text-anchor="end" font-weight="normal" fill="#1e1e1e" stroke="#1e1e1e" stroke-width="0.02" textLength="7.14" lengthAdjust="spacingAndGlyphs">16</text>
<path d="M518.20 453.89 H522.50" stroke="#5a5a5a" stroke-width="0.9"/>
<text x="514.20" y="456.24" font-size="7.9" text-anchor="end" font-weight="normal" fill="#1e1e1e" stroke="#1e1e1e" stroke-width="0.02" textLength="8.98" lengthAdjust="spacingAndGlyphs">32</text>
<path d="M518.20 441.77 H522.50" stroke="#5a5a5a" stroke-width="0.9"/>
<text x="514.20" y="444.12" font-size="7.9" text-anchor="end" font-weight="normal" fill="#1e1e1e" stroke="#1e1e1e" stroke-width="0.02" textLength="8.98" lengthAdjust="spacingAndGlyphs">64</text>
<path d="M518.20 429.64 H522.50" stroke="#5a5a5a" stroke-width="0.9"/>
<text x="514.20" y="431.99" font-size="7.9" text-anchor="end" font-weight="normal" fill="#1e1e1e" stroke="#1e1e1e" stroke-width="0.02" textLength="11.63" lengthAdjust="spacingAndGlyphs">128</text>
<path d="M518.20 417.52 H522.50" stroke="#5a5a5a" stroke-width="0.9"/>
<text x="514.20" y="419.87" font-size="7.9" text-anchor="end" font-weight="normal" fill="#1e1e1e" stroke="#1e1e1e" stroke-width="0.02" textLength="13.47" lengthAdjust="spacingAndGlyphs">256</text>
<path d="M518.20 405.40 H522.50" stroke="#5a5a5a" stroke-width="0.9"/>
<text x="514.20" y="407.75" font-size="7.9" text-anchor="end" font-weight="normal" fill="#1e1e1e" stroke="#1e1e1e" stroke-width="0.02" textLength="11.63" lengthAdjust="spacingAndGlyphs">512</text>
<path d="M535.50 514.50 V518.70" stroke="#5a5a5a" stroke-width="0.9"/>
<text transform="translate(538.20,522.90) rotate(-90)" font-size="7.1" text-anchor="end" font-weight="normal" fill="#1e1e1e" stroke="#1e1e1e" stroke-width="0.03" textLength="46.4" lengthAdjust="spacingAndGlyphs">Pre-challenge</text>
<path d="M562.08 514.50 V518.70" stroke="#5a5a5a" stroke-width="0.9"/>
<text transform="translate(564.78,522.90) rotate(-90)" font-size="7.1" text-anchor="end" font-weight="normal" fill="#1e1e1e" stroke="#1e1e1e" stroke-width="0.03" textLength="16.1" lengthAdjust="spacingAndGlyphs">7 DPI</text>
<path d="M588.66 514.50 V518.70" stroke="#5a5a5a" stroke-width="0.9"/>
<text transform="translate(591.36,522.90) rotate(-90)" font-size="7.1" text-anchor="end" font-weight="normal" fill="#1e1e1e" stroke="#1e1e1e" stroke-width="0.03" textLength="19.6" lengthAdjust="spacingAndGlyphs">14 DPI</text>
<path d="M615.24 514.50 V518.70" stroke="#5a5a5a" stroke-width="0.9"/>
<text transform="translate(617.94,522.90) rotate(-90)" font-size="7.1" text-anchor="end" font-weight="normal" fill="#1e1e1e" stroke="#1e1e1e" stroke-width="0.03" textLength="19.9" lengthAdjust="spacingAndGlyphs">21 DPI</text>
<path d="M641.82 514.50 V518.70" stroke="#5a5a5a" stroke-width="0.9"/>
<text transform="translate(644.52,522.90) rotate(-90)" font-size="7.1" text-anchor="end" font-weight="normal" fill="#1e1e1e" stroke="#1e1e1e" stroke-width="0.03" textLength="21.5" lengthAdjust="spacingAndGlyphs">28 DPI</text>
<path d="M668.40 514.50 V518.70" stroke="#5a5a5a" stroke-width="0.9"/>
<text transform="translate(671.10,522.90) rotate(-90)" font-size="7.1" text-anchor="end" font-weight="normal" fill="#1e1e1e" stroke="#1e1e1e" stroke-width="0.03" textLength="25.2" lengthAdjust="spacingAndGlyphs">10 DPSI</text>
<text transform="translate(495.50,459.95) rotate(-90)" font-size="8.6" text-anchor="middle" font-weight="normal" fill="#1e1e1e" stroke="#1e1e1e" stroke-width="0.08" textLength="71" lengthAdjust="spacingAndGlyphs">HAI antibody titre</text>
<text x="487.60" y="402.10" font-size="12.4" text-anchor="start" font-weight="bold" fill="#000" stroke="#000" stroke-width="0.45">h</text>
<path d="M641.82 417.52 L668.40 441.77 " fill="none" stroke="#ff0000" stroke-width="0.8" stroke-linejoin="round"/>
<circle cx="535.50" cy="514.50" r="2.3" fill="#ff0000"/>
<circle cx="562.08" cy="514.50" r="2.3" fill="#ff0000"/>
<circle cx="588.66" cy="417.52" r="2.3" fill="#ff0000"/>
<circle cx="615.24" cy="429.64" r="2.3" fill="#ff0000"/>
<circle cx="641.82" cy="417.52" r="2.3" fill="#ff0000"/>
<circle cx="668.40" cy="441.77" r="2.3" fill="#ff0000"/>
<path d="M615.24 429.64 L641.82 417.52 M641.82 417.52 L668.40 429.64 " fill="none" stroke="#ff0000" stroke-width="0.8" stroke-linejoin="round"/>
<rect x="533.30" y="512.30" width="4.4" height="4.4" fill="#ff0000"/>
<rect x="559.88" y="512.30" width="4.4" height="4.4" fill="#ff0000"/>
<rect x="586.46" y="415.32" width="4.4" height="4.4" fill="#ff0000"/>
<rect x="613.04" y="427.44" width="4.4" height="4.4" fill="#ff0000"/>
<rect x="639.62" y="415.32" width="4.4" height="4.4" fill="#ff0000"/>
<rect x="666.20" y="427.44" width="4.4" height="4.4" fill="#ff0000"/>
<path d="M562.08 514.50 L588.66 417.52 M588.66 417.52 L615.24 429.64 M615.24 429.64 L641.82 429.64 M641.82 429.64 L668.40 429.64 " fill="none" stroke="#0000ff" stroke-width="0.8" stroke-linejoin="round"/>
<circle cx="535.50" cy="514.50" r="2.3" fill="#0000ff"/>
<circle cx="562.08" cy="514.50" r="2.3" fill="#0000ff"/>
<circle cx="588.66" cy="417.52" r="2.3" fill="#0000ff"/>
<circle cx="615.24" cy="429.64" r="2.3" fill="#0000ff"/>
<circle cx="641.82" cy="429.64" r="2.3" fill="#0000ff"/>
<circle cx="668.40" cy="429.64" r="2.3" fill="#0000ff"/>
<path d="M535.50 514.50 L562.08 514.50 M562.08 514.50 L588.66 429.64 M588.66 429.64 L615.24 441.77 M615.24 441.77 L641.82 441.77 M641.82 441.77 L668.40 429.64 " fill="none" stroke="#0000ff" stroke-width="0.8" stroke-linejoin="round"/>
<rect x="533.30" y="512.30" width="4.4" height="4.4" fill="#0000ff"/>
<rect x="559.88" y="512.30" width="4.4" height="4.4" fill="#0000ff"/>
<rect x="586.46" y="427.44" width="4.4" height="4.4" fill="#0000ff"/>
<rect x="613.04" y="439.57" width="4.4" height="4.4" fill="#0000ff"/>
<rect x="639.62" y="439.57" width="4.4" height="4.4" fill="#0000ff"/>
<rect x="666.20" y="427.44" width="4.4" height="4.4" fill="#0000ff"/>
<path d="M618.30 474.40 H629.80" stroke="#0000ff" stroke-width="0.8"/>
<circle cx="624.05" cy="474.40" r="2.3" fill="#0000ff"/>
<text x="635.00" y="477.00" font-size="7.3" text-anchor="start" font-weight="normal" fill="#1e1e1e" stroke="#1e1e1e" stroke-width="0.06" textLength="35.8" lengthAdjust="spacingAndGlyphs">Cow #4 HL</text>
<path d="M618.30 485.60 H629.80" stroke="#0000ff" stroke-width="0.8"/>
<rect x="621.85" y="483.40" width="4.4" height="4.4" fill="#0000ff"/>
<text x="635.00" y="488.20" font-size="7.3" text-anchor="start" font-weight="normal" fill="#1e1e1e" stroke="#1e1e1e" stroke-width="0.06" textLength="36.3" lengthAdjust="spacingAndGlyphs">Cow #4 HR</text>
<path d="M618.30 496.80 H629.80" stroke="#ff0000" stroke-width="0.8"/>
<circle cx="624.05" cy="496.80" r="2.3" fill="#ff0000"/>
<text x="635.00" y="499.40" font-size="7.3" text-anchor="start" font-weight="normal" fill="#1e1e1e" stroke="#1e1e1e" stroke-width="0.06" textLength="37.1" lengthAdjust="spacingAndGlyphs">Cow #11 HL</text>
<path d="M618.30 508.00 H629.80" stroke="#ff0000" stroke-width="0.8"/>
<rect x="621.85" y="505.80" width="4.4" height="4.4" fill="#ff0000"/>
<text x="635.00" y="510.60" font-size="7.3" text-anchor="start" font-weight="normal" fill="#1e1e1e" stroke="#1e1e1e" stroke-width="0.06" textLength="38.1" lengthAdjust="spacingAndGlyphs">Cow #11 HR</text>

<g>
<text x="30" y="12.6" font-size="9" text-anchor="middle" fill="#222" stroke="#222" stroke-width="0.05" textLength="26.4" lengthAdjust="spacingAndGlyphs">Serum</text>
<path d="M23.4 33 V81.6 Q23.4 87.8 29.6 87.8 Q35.8 87.8 35.8 81.6 V33 Z" fill="#f4f4f3" stroke="#c2bfbc" stroke-width="0.8"/>
<path d="M23.9 41.2 Q29.6 39.9 35.3 41.2 V53.2 H23.9 Z" fill="#e7b531"/>
<ellipse cx="29.6" cy="41.3" rx="5.6" ry="0.9" fill="#f0cd5a"/>
<path d="M23.9 53.2 H35.1 V81.1 Q35.1 86.9 29.5 86.9 Q23.9 86.9 23.9 81.1 Z" fill="#a53d3f"/>
<path d="M23.9 76 H35.1 V81.1 Q35.1 86.9 29.5 86.9 Q23.9 86.9 23.9 81.1 Z" fill="#a0383a"/>
<rect x="23.9" y="52.9" width="11.4" height="0.7" fill="#f1dcc0"/>
<rect x="24.2" y="44.5" width="5.8" height="31.5" fill="#f1efe9"/>
<rect x="23.6" y="44.5" width="0.7" height="31.5" fill="#dcdad4"/>
<path d="M22.9 20.1 Q22.9 18.9 24.1 18.9 H35.4 Q36.6 18.9 36.6 20.1 L37.1 32.6 L37.5 34.6 H22.1 L22.6 32.6 Z" fill="#e86a2c"/>
<path d="M22.9 20.1 Q22.9 18.9 24.1 18.9 H35.4 Q36.6 18.9 36.6 20.1 V21.2 H22.9 Z" fill="#ef8048"/>
<path d="M24.4 22 V32.3 M26.3 22 V32.3 M28.2 22 V32.3 M30.1 22 V32.3 M32.0 22 V32.3 M33.9 22 V32.3 M35.6 22 V32.3 " stroke="#d35a21" stroke-width="0.45" opacity="0.55"/>
<rect x="22.3" y="32.6" width="15.1" height="0.6" fill="#d9581f" opacity="0.6"/>
</g><g transform="translate(0,0)"><text x="30.1" y="202" font-size="9" text-anchor="middle" fill="#222" stroke="#222" stroke-width="0.05" lengthAdjust="spacingAndGlyphs" textLength="16.3">Milk</text><text x="30.1" y="211.7" font-size="9" text-anchor="middle" fill="#222" stroke="#222" stroke-width="0.05" lengthAdjust="spacingAndGlyphs" textLength="49.3">forequarters</text></g><g transform="translate(0,0)"><path d="M6.6 261.5 C9 260 16 257.5 21 257 L38.8 257.5 C44 258 49 259 51 260 C53 260.5 53.8 262 53.7 264 C53.8 267 53.5 270 52 272.8 C51.3 274 51 275 51.5 276.5 C52.5 279 54 283 55.4 286.8 C57 291 58.5 296 59.4 304 C59.9 310 60 314 59.8 317.5 C59.8 321 59.5 324 59 326.3 C58.3 330 57.5 333 56.3 335 C55 337.5 53.5 339 52 340.4 C50 342 48 343.5 45.8 344.7 C43.5 346 41 347 38.8 347.4 L32 347.4 C28 347.2 25 346.8 21.9 346 C19 345 17 344 14.9 343 C12.5 341.5 10.5 340 8.8 338.6 C7 337.2 5.8 336 4.8 335 C3.5 333 2.7 331 2.2 329 C1.4 326 1 323 0.9 320 C0.9 317 1.1 315 1.3 313 C1.5 308 1.8 304 2.2 300 C2.5 296 3 292 3.5 285 C4 283 4.5 281.5 5.3 279.8 C6.5 277 7.5 275 8.3 272.8 C7.8 271.5 7.2 270.5 7 269.3 C6.7 266.5 6.5 264 6.6 261.5 Z" fill="#e9e6e1"/><path d="M14 265 C15 262 18 260 22 259.5 L39 259.5 C43 260 45.5 260.5 46.2 261.4 C46.7 265 46.8 268 46.7 271 C45 274 42 275.5 40.5 276.3 C45 278 49 281 51 286 C53.5 293 54 303 53 310 C52 314 50 316 48 317 L13 317 C11 315 9.5 312 9.3 308 C9 300 10.5 292 13.2 286 C14.5 282 16 279 17.5 275.4 C15 273 13.5 271 13.2 269.3 C13.3 267.5 13.6 266 14 265 Z" fill="#f5f3f0"/><path d="M3.2 288 C4.5 286.5 7.5 285.5 9.4 286.5 C9.8 288.5 8.5 290.5 8.6 292.5 C8.8 295 7.5 297 7.2 299.5 C6.8 301.5 5.5 303.5 3.5 303.7 C2.4 302 2 299 2.1 296 C2.2 293 2.5 290 3.2 288 Z" fill="#92918e"/><path d="M55.4 293 C57 292.5 58.5 293.2 59.2 294.5 C59.6 298 59.8 303 59.6 307 C59.5 309.5 59 311.5 58 312.3 C56.5 311.5 55.5 310.8 55.4 310.5 C54 308 53 305 53.2 300 C53.4 297 54.2 294.5 55.4 293 Z" fill="#92918e"/><path d="M27.2 280.7 C28 279.8 29 279.6 28.9 279.8 C30.5 279.6 32.5 280.5 33.3 282.4 C33.2 284 32.8 285.5 32.4 286.8 C32 288.5 31.5 290 31.6 291.2 C32.3 292 33 293 33.3 293.8 C33.2 295.5 32.9 297 32.4 298.2 C31.6 299.6 30.8 300.5 29.8 300.9 C28.5 300.9 27.3 300.6 26.3 300 C25.6 298.5 25.3 297 25.4 295.6 C25.7 294 26.2 292.5 26.3 291.2 C25.8 290 25 289 24.5 287.7 C24.9 286 25.5 284.5 26 283.3 C26.4 282.3 26.8 281.4 27.2 280.7 Z" fill="#92918e"/><path d="M8.8 318.4 C11 316.5 13.5 315.2 15.8 315 L17.5 314 L44 314 C46 316 48.5 318 50.2 318.9 C51.5 319.5 52.5 320.2 52.8 321 C51 322.5 49 324.5 48.4 326.3 C47.6 328 47.3 329.5 47.5 330.7 C48 332.5 48.6 333.8 48.4 335 C48 337.5 47.5 339 46.7 340.4 C45 342.5 42.5 344 40.5 344.7 C37 346 33 346.5 30 346.6 C28.5 346.6 27.3 346.6 26.3 346.5 C23 346 20 345.5 17.5 344.7 C15 343.5 13 342.5 11.4 341.2 C10 339.5 9.2 338 8.8 336.8 C8.4 334.5 8.2 332.5 8.3 330.7 C8.8 329 9.5 327.5 9.6 326 C9.2 324.5 8.6 323.2 8.3 322 C8.4 320.5 8.6 319.5 8.8 318.4 Z" fill="#92918e"/><path d="M24.5 337 C28 336 33 336 36.5 337 L36 346.3 C33 346.6 28 346.6 25 346.3 Z" fill="#989896"/><rect x="14.4" y="298.4" width="32.2" height="19.4" rx="5" fill="#f6e4e5"/><rect x="16.93" y="300.82" width="11.60" height="14.85" rx="4.87" ry="5.64" fill="#d6b6b7" stroke="#fcf1f2" stroke-width="1.15"/><rect x="31.12" y="300.82" width="12.70" height="14.85" rx="5.33" ry="5.64" fill="#d6b6b7" stroke="#fcf1f2" stroke-width="1.15"/><rect x="16.52" y="317.52" width="12.50" height="18.75" rx="5.25" ry="7.13" fill="#d6b6b7" stroke="#fcf1f2" stroke-width="1.15"/><rect x="31.43" y="317.52" width="11.95" height="18.75" rx="5.02" ry="7.13" fill="#d6b6b7" stroke="#fcf1f2" stroke-width="1.15"/><text x="23.65" y="311.6" font-size="8.3" text-anchor="middle" fill="#262626" stroke="#262626" stroke-width="0.08">FL</text><text x="37.9" y="311.6" font-size="8.3" text-anchor="middle" fill="#262626" stroke="#262626" stroke-width="0.08">FR</text><path d="M18 234.8 L12 235.2 C7 235.3 3 235.3 0.8 235.7 C3 236.3 7 236.8 12 239 C14 239.5 16.5 239.8 19 239.7 Z" fill="#989692"/><path d="M43.2 234.8 L49.2 235.2 C54.2 235.3 58.2 235.3 60.4 235.7 C58.2 236.3 54.2 236.8 49.2 239 C47.2 239.5 44.7 239.8 42.2 239.7 Z" fill="#989692"/><path d="M19.9 226.1 C21.5 225.8 22.7 226.3 23.4 227 L35.7 227 C36.5 226.2 37.3 225.9 38.3 226.1 C40 226.3 41.2 226.7 41.9 227.4 C43 228.3 43.6 229 43.6 230 C43.8 231.2 43.8 232.4 43.6 233.6 C43.3 236 42.8 237.8 42.3 239.3 C41.5 240.2 40.9 241.2 40.5 242.3 C40 243.8 39.8 245.2 39.7 246.7 C39.5 248.8 39.4 250.8 39.2 252.9 C39 254.5 38.8 256 38.3 257.3 C37.8 258.6 37.3 259.8 36.6 260.8 C35.8 262 35 262.9 34 263.4 C32.8 263.9 31.6 264 30.4 263.8 C29.1 263.3 28 262.6 26.9 261.7 C25.6 260.6 24.3 259.4 23.4 258.1 C22.7 257 22.1 255.8 21.7 254.6 C21.3 253.4 21 252.3 20.8 251.1 C20.8 249.4 20.8 247.6 20.8 245.9 C20.6 244.6 20.3 243.4 19.9 242.3 C19.6 241.4 19.3 240.5 19 239.7 C18.5 238.6 18.1 237.4 17.7 236.2 C17.3 235 17 233.9 16.8 232.7 C16.7 231.5 16.7 230.3 16.8 229.2 C17.5 227.8 18.6 226.7 19.9 226.1 Z" fill="#95938f"/><path d="M21.5 232 C24 230.5 27 230 30.4 230 C34 230 37 230.5 39.6 232 C39.8 236 39.2 240 38.4 244 C38 249 37.8 254 36.8 258.5 C35 262 32.5 263.5 30.4 263.5 C28 263 25.5 261 23.8 258 C22.6 255 22.4 251 22.4 247 C22.2 242 21.8 237 21.5 232 Z" fill="#a09d98"/><path d="M24.7 219.5 C27 219 34 219 36.6 219.5 C37.2 221.5 37.8 224 37.9 226 C36 227.8 33 228.4 30.4 228.4 C27.5 228.4 24.5 227.8 22.5 226 C22.8 224 23.7 221.5 24.7 219.5 Z" fill="#f3f0ec" stroke="#dedad4" stroke-width="0.35"/><path d="M25.3 219.6 C28 218.9 33 218.9 35.9 219.6" fill="none" stroke="#e2767c" stroke-width="0.55"/></g><g transform="translate(0,202)"><text x="30.1" y="202" font-size="9" text-anchor="middle" fill="#222" stroke="#222" stroke-width="0.05" lengthAdjust="spacingAndGlyphs" textLength="16.3">Milk</text><text x="30.1" y="211.7" font-size="9" text-anchor="middle" fill="#222" stroke="#222" stroke-width="0.05" lengthAdjust="spacingAndGlyphs" textLength="50.4">hindquarters</text></g><g transform="translate(2.0,204)"><path d="M6.6 261.5 C9 260 16 257.5 21 257 L38.8 257.5 C44 258 49 259 51 260 C53 260.5 53.8 262 53.7 264 C53.8 267 53.5 270 52 272.8 C51.3 274 51 275 51.5 276.5 C52.5 279 54 283 55.4 286.8 C57 291 58.5 296 59.4 304 C59.9 310 60 314 59.8 317.5 C59.8 321 59.5 324 59 326.3 C58.3 330 57.5 333 56.3 335 C55 337.5 53.5 339 52 340.4 C50 342 48 343.5 45.8 344.7 C43.5 346 41 347 38.8 347.4 L32 347.4 C28 347.2 25 346.8 21.9 346 C19 345 17 344 14.9 343 C12.5 341.5 10.5 340 8.8 338.6 C7 337.2 5.8 336 4.8 335 C3.5 333 2.7 331 2.2 329 C1.4 326 1 323 0.9 320 C0.9 317 1.1 315 1.3 313 C1.5 308 1.8 304 2.2 300 C2.5 296 3 292 3.5 285 C4 283 4.5 281.5 5.3 279.8 C6.5 277 7.5 275 8.3 272.8 C7.8 271.5 7.2 270.5 7 269.3 C6.7 266.5 6.5 264 6.6 261.5 Z" fill="#e9e6e1"/><path d="M14 265 C15 262 18 260 22 259.5 L39 259.5 C43 260 45.5 260.5 46.2 261.4 C46.7 265 46.8 268 46.7 271 C45 274 42 275.5 40.5 276.3 C45 278 49 281 51 286 C53.5 293 54 303 53 310 C52 314 50 316 48 317 L13 317 C11 315 9.5 312 9.3 308 C9 300 10.5 292 13.2 286 C14.5 282 16 279 17.5 275.4 C15 273 13.5 271 13.2 269.3 C13.3 267.5 13.6 266 14 265 Z" fill="#f5f3f0"/><path d="M3.2 288 C4.5 286.5 7.5 285.5 9.4 286.5 C9.8 288.5 8.5 290.5 8.6 292.5 C8.8 295 7.5 297 7.2 299.5 C6.8 301.5 5.5 303.5 3.5 303.7 C2.4 302 2 299 2.1 296 C2.2 293 2.5 290 3.2 288 Z" fill="#92918e"/><path d="M55.4 293 C57 292.5 58.5 293.2 59.2 294.5 C59.6 298 59.8 303 59.6 307 C59.5 309.5 59 311.5 58 312.3 C56.5 311.5 55.5 310.8 55.4 310.5 C54 308 53 305 53.2 300 C53.4 297 54.2 294.5 55.4 293 Z" fill="#92918e"/><path d="M27.2 280.7 C28 279.8 29 279.6 28.9 279.8 C30.5 279.6 32.5 280.5 33.3 282.4 C33.2 284 32.8 285.5 32.4 286.8 C32 288.5 31.5 290 31.6 291.2 C32.3 292 33 293 33.3 293.8 C33.2 295.5 32.9 297 32.4 298.2 C31.6 299.6 30.8 300.5 29.8 300.9 C28.5 300.9 27.3 300.6 26.3 300 C25.6 298.5 25.3 297 25.4 295.6 C25.7 294 26.2 292.5 26.3 291.2 C25.8 290 25 289 24.5 287.7 C24.9 286 25.5 284.5 26 283.3 C26.4 282.3 26.8 281.4 27.2 280.7 Z" fill="#92918e"/><path d="M8.8 318.4 C11 316.5 13.5 315.2 15.8 315 L17.5 314 L44 314 C46 316 48.5 318 50.2 318.9 C51.5 319.5 52.5 320.2 52.8 321 C51 322.5 49 324.5 48.4 326.3 C47.6 328 47.3 329.5 47.5 330.7 C48 332.5 48.6 333.8 48.4 335 C48 337.5 47.5 339 46.7 340.4 C45 342.5 42.5 344 40.5 344.7 C37 346 33 346.5 30 346.6 C28.5 346.6 27.3 346.6 26.3 346.5 C23 346 20 345.5 17.5 344.7 C15 343.5 13 342.5 11.4 341.2 C10 339.5 9.2 338 8.8 336.8 C8.4 334.5 8.2 332.5 8.3 330.7 C8.8 329 9.5 327.5 9.6 326 C9.2 324.5 8.6 323.2 8.3 322 C8.4 320.5 8.6 319.5 8.8 318.4 Z" fill="#92918e"/><path d="M24.5 337 C28 336 33 336 36.5 337 L36 346.3 C33 346.6 28 346.6 25 346.3 Z" fill="#989896"/><rect x="14.4" y="298.4" width="32.2" height="19.4" rx="5" fill="#f6e4e5"/><rect x="16.93" y="300.82" width="11.60" height="14.85" rx="4.87" ry="5.64" fill="#d6b6b7" stroke="#fcf1f2" stroke-width="1.15"/><rect x="31.12" y="300.82" width="12.70" height="14.85" rx="5.33" ry="5.64" fill="#d6b6b7" stroke="#fcf1f2" stroke-width="1.15"/><rect x="16.52" y="317.52" width="12.50" height="18.75" rx="5.25" ry="7.13" fill="#d6b6b7" stroke="#fcf1f2" stroke-width="1.15"/><rect x="31.43" y="317.52" width="11.95" height="18.75" rx="5.02" ry="7.13" fill="#d6b6b7" stroke="#fcf1f2" stroke-width="1.15"/><text x="22.65" y="330" font-size="8.3" text-anchor="middle" fill="#262626" stroke="#262626" stroke-width="0.08">HL</text><text x="37.65" y="330" font-size="8.3" text-anchor="middle" fill="#262626" stroke="#262626" stroke-width="0.08">HR</text><path d="M18 234.8 L12 235.2 C7 235.3 3 235.3 0.8 235.7 C3 236.3 7 236.8 12 239 C14 239.5 16.5 239.8 19 239.7 Z" fill="#989692"/><path d="M43.2 234.8 L49.2 235.2 C54.2 235.3 58.2 235.3 60.4 235.7 C58.2 236.3 54.2 236.8 49.2 239 C47.2 239.5 44.7 239.8 42.2 239.7 Z" fill="#989692"/><path d="M19.9 226.1 C21.5 225.8 22.7 226.3 23.4 227 L35.7 227 C36.5 226.2 37.3 225.9 38.3 226.1 C40 226.3 41.2 226.7 41.9 227.4 C43 228.3 43.6 229 43.6 230 C43.8 231.2 43.8 232.4 43.6 233.6 C43.3 236 42.8 237.8 42.3 239.3 C41.5 240.2 40.9 241.2 40.5 242.3 C40 243.8 39.8 245.2 39.7 246.7 C39.5 248.8 39.4 250.8 39.2 252.9 C39 254.5 38.8 256 38.3 257.3 C37.8 258.6 37.3 259.8 36.6 260.8 C35.8 262 35 262.9 34 263.4 C32.8 263.9 31.6 264 30.4 263.8 C29.1 263.3 28 262.6 26.9 261.7 C25.6 260.6 24.3 259.4 23.4 258.1 C22.7 257 22.1 255.8 21.7 254.6 C21.3 253.4 21 252.3 20.8 251.1 C20.8 249.4 20.8 247.6 20.8 245.9 C20.6 244.6 20.3 243.4 19.9 242.3 C19.6 241.4 19.3 240.5 19 239.7 C18.5 238.6 18.1 237.4 17.7 236.2 C17.3 235 17 233.9 16.8 232.7 C16.7 231.5 16.7 230.3 16.8 229.2 C17.5 227.8 18.6 226.7 19.9 226.1 Z" fill="#95938f"/><path d="M21.5 232 C24 230.5 27 230 30.4 230 C34 230 37 230.5 39.6 232 C39.8 236 39.2 240 38.4 244 C38 249 37.8 254 36.8 258.5 C35 262 32.5 263.5 30.4 263.5 C28 263 25.5 261 23.8 258 C22.6 255 22.4 251 22.4 247 C22.2 242 21.8 237 21.5 232 Z" fill="#a09d98"/><path d="M24.7 219.5 C27 219 34 219 36.6 219.5 C37.2 221.5 37.8 224 37.9 226 C36 227.8 33 228.4 30.4 228.4 C27.5 228.4 24.5 227.8 22.5 226 C22.8 224 23.7 221.5 24.7 219.5 Z" fill="#f3f0ec" stroke="#dedad4" stroke-width="0.35"/><path d="M25.3 219.6 C28 218.9 33 218.9 35.9 219.6" fill="none" stroke="#e2767c" stroke-width="0.55"/></g>
</svg>
</body></html>
